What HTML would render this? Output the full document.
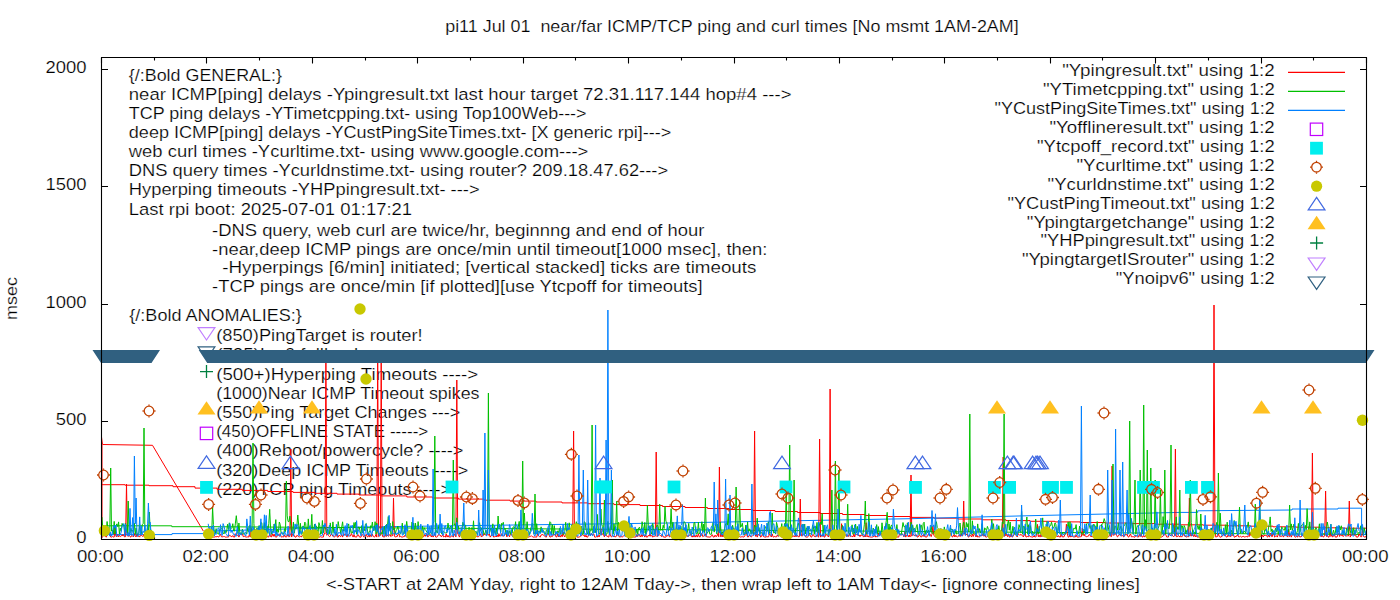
<!DOCTYPE html>
<html><head><meta charset="utf-8"><style>
html,body{margin:0;padding:0;background:#fff;}
svg{display:block;}
text{white-space:pre;font-family:"Liberation Sans",sans-serif;font-size:17px;fill:#000;stroke:#fff;stroke-width:0.22px;}
</style></head><body>
<svg width="1400" height="600" viewBox="0 0 1400 600">
<rect width="1400" height="600" fill="#fff"/>
<path d="M101.5 539.5h6.5M1366.5 539.5h-6.5M101.5 421.5h6.5M1366.5 421.5h-6.5M101.5 304.5h6.5M1366.5 304.5h-6.5M101.5 186.5h6.5M1366.5 186.5h-6.5M101.5 69.5h6.5M1366.5 69.5h-6.5M101.5 57.5v6M101.5 539.5v-6M154.5 57.5v3M154.5 539.5v-3M206.5 57.5v6M206.5 539.5v-6M259.5 57.5v3M259.5 539.5v-3M312.5 57.5v6M312.5 539.5v-6M365.5 57.5v3M365.5 539.5v-3M417.5 57.5v6M417.5 539.5v-6M470.5 57.5v3M470.5 539.5v-3M523.5 57.5v6M523.5 539.5v-6M575.5 57.5v3M575.5 539.5v-3M628.5 57.5v6M628.5 539.5v-6M681.5 57.5v3M681.5 539.5v-3M734.5 57.5v6M734.5 539.5v-6M786.5 57.5v3M786.5 539.5v-3M839.5 57.5v6M839.5 539.5v-6M892.5 57.5v3M892.5 539.5v-3M944.5 57.5v6M944.5 539.5v-6M997.5 57.5v3M997.5 539.5v-3M1050.5 57.5v6M1050.5 539.5v-6M1102.5 57.5v3M1102.5 539.5v-3M1155.5 57.5v6M1155.5 539.5v-6M1208.5 57.5v3M1208.5 539.5v-3M1261.5 57.5v6M1261.5 539.5v-6M1313.5 57.5v3M1313.5 539.5v-3M1366.5 57.5v6M1366.5 539.5v-6" stroke="#000" stroke-width="1.1" fill="none"/><g><text x="445.2" y="32.0" textLength="573.5" lengthAdjust="spacingAndGlyphs">pi11 Jul 01  near/far ICMP/TCP ping and curl times [No msmt 1AM-2AM]</text><text x="45.5" y="72.8" textLength="41.0" lengthAdjust="spacingAndGlyphs">2000</text><text x="45.5" y="189.8" textLength="41.0" lengthAdjust="spacingAndGlyphs">1500</text><text x="45.5" y="307.8" textLength="41.0" lengthAdjust="spacingAndGlyphs">1000</text><text x="55.7" y="424.8" textLength="30.8" lengthAdjust="spacingAndGlyphs">500</text><text x="76.2" y="542.8" textLength="10.3" lengthAdjust="spacingAndGlyphs">0</text><text x="77.0" y="561.5" textLength="46.5" lengthAdjust="spacingAndGlyphs">00:00</text><text x="182.4" y="561.5" textLength="46.5" lengthAdjust="spacingAndGlyphs">02:00</text><text x="287.8" y="561.5" textLength="46.5" lengthAdjust="spacingAndGlyphs">04:00</text><text x="393.2" y="561.5" textLength="46.5" lengthAdjust="spacingAndGlyphs">06:00</text><text x="498.6" y="561.5" textLength="46.5" lengthAdjust="spacingAndGlyphs">08:00</text><text x="604.0" y="561.5" textLength="46.5" lengthAdjust="spacingAndGlyphs">10:00</text><text x="709.5" y="561.5" textLength="46.5" lengthAdjust="spacingAndGlyphs">12:00</text><text x="814.9" y="561.5" textLength="46.5" lengthAdjust="spacingAndGlyphs">14:00</text><text x="920.3" y="561.5" textLength="46.5" lengthAdjust="spacingAndGlyphs">16:00</text><text x="1025.7" y="561.5" textLength="46.5" lengthAdjust="spacingAndGlyphs">18:00</text><text x="1131.1" y="561.5" textLength="46.5" lengthAdjust="spacingAndGlyphs">20:00</text><text x="1236.5" y="561.5" textLength="46.5" lengthAdjust="spacingAndGlyphs">22:00</text><text x="1342.0" y="561.5" textLength="46.5" lengthAdjust="spacingAndGlyphs">00:00</text><text x="326.0" y="589.6" textLength="813.8" lengthAdjust="spacingAndGlyphs">&lt;-START at 2AM Yday, right to 12AM Tday-&gt;, then wrap left to 1AM Tday&lt;- [ignore connecting lines]</text><text x="128.8" y="81.0" textLength="153.1" lengthAdjust="spacingAndGlyphs">{/:Bold GENERAL:}</text><text x="128.8" y="100.1" textLength="662.7" lengthAdjust="spacingAndGlyphs">near ICMP[ping] delays -Ypingresult.txt last hour target 72.31.117.144 hop#4 ---&gt;</text><text x="128.8" y="119.1" textLength="457.8" lengthAdjust="spacingAndGlyphs">TCP ping delays -YTimetcpping.txt- using Top100Web---&gt;</text><text x="128.8" y="138.2" textLength="542.6" lengthAdjust="spacingAndGlyphs">deep ICMP[ping] delays -YCustPingSiteTimes.txt- [X generic rpi]---&gt;</text><text x="128.8" y="157.3" textLength="459.5" lengthAdjust="spacingAndGlyphs">web curl times -Ycurltime.txt- using www.google.com---&gt;</text><text x="128.8" y="176.3" textLength="539.3" lengthAdjust="spacingAndGlyphs">DNS query times -Ycurldnstime.txt- using router? 209.18.47.62---&gt;</text><text x="128.8" y="195.4" textLength="350.8" lengthAdjust="spacingAndGlyphs">Hyperping timeouts -YHPpingresult.txt- ---&gt;</text><text x="128.8" y="214.5" textLength="283.3" lengthAdjust="spacingAndGlyphs">Last rpi boot: 2025-07-01 01:17:21</text><text x="212.1" y="235.6" textLength="492.3" lengthAdjust="spacingAndGlyphs">-DNS query, web curl are twice/hr, beginnng and end of hour</text><text x="212.1" y="254.5" textLength="555.3" lengthAdjust="spacingAndGlyphs">-near,deep ICMP pings are once/min until timeout[1000 msec], then:</text><text x="222.3" y="273.3" textLength="534.1" lengthAdjust="spacingAndGlyphs">-Hyperpings [6/min] initiated; [vertical stacked] ticks are timeouts</text><text x="212.1" y="292.1" textLength="490.6" lengthAdjust="spacingAndGlyphs">-TCP pings are once/min [if plotted][use Ytcpoff for timeouts]</text><text x="129.3" y="321.0" textLength="172.5" lengthAdjust="spacingAndGlyphs">{/:Bold ANOMALIES:}</text><text x="216.2" y="341.0" textLength="206.4" lengthAdjust="spacingAndGlyphs">(850)PingTarget is router!</text><text x="216.2" y="360.2" textLength="188.1" lengthAdjust="spacingAndGlyphs">(725)Ipv6 fallback ----&gt;</text><text x="216.2" y="379.5" textLength="261.9" lengthAdjust="spacingAndGlyphs">(500+)Hyperping Timeouts ----&gt;</text><text x="216.2" y="398.7" textLength="263.3" lengthAdjust="spacingAndGlyphs">(1000)Near ICMP Timeout spikes</text><text x="216.2" y="417.9" textLength="244.1" lengthAdjust="spacingAndGlyphs">(550)Ping Target Changes ---&gt;</text><text x="216.2" y="437.1" textLength="212.1" lengthAdjust="spacingAndGlyphs">(450)OFFLINE STATE -----&gt;</text><text x="216.2" y="456.4" textLength="247.2" lengthAdjust="spacingAndGlyphs">(400)Reboot/powercycle? ----&gt;</text><text x="216.2" y="475.6" textLength="252.0" lengthAdjust="spacingAndGlyphs">(320)Deep ICMP Timeouts ----&gt;</text><text x="216.2" y="494.8" textLength="234.9" lengthAdjust="spacingAndGlyphs">(220)TCP ping Timeouts ----&gt;</text><text x="1062.2" y="75.8" textLength="212.6" lengthAdjust="spacingAndGlyphs">"Ypingresult.txt" using 1:2</text><text x="1042.9" y="94.8" textLength="231.9" lengthAdjust="spacingAndGlyphs">"YTimetcpping.txt" using 1:2</text><text x="994.5" y="113.7" textLength="280.3" lengthAdjust="spacingAndGlyphs">"YCustPingSiteTimes.txt" using 1:2</text><text x="1049.4" y="132.7" textLength="225.4" lengthAdjust="spacingAndGlyphs">"Yofflineresult.txt" using 1:2</text><text x="1037.0" y="151.6" textLength="237.8" lengthAdjust="spacingAndGlyphs">"Ytcpoff_record.txt" using 1:2</text><text x="1076.4" y="170.6" textLength="198.4" lengthAdjust="spacingAndGlyphs">"Ycurltime.txt" using 1:2</text><text x="1047.5" y="189.6" textLength="227.3" lengthAdjust="spacingAndGlyphs">"Ycurldnstime.txt" using 1:2</text><text x="1007.5" y="208.5" textLength="267.3" lengthAdjust="spacingAndGlyphs">"YCustPingTimeout.txt" using 1:2</text><text x="1026.8" y="227.5" textLength="248.0" lengthAdjust="spacingAndGlyphs">"Ypingtargetchange" using 1:2</text><text x="1040.4" y="246.4" textLength="234.4" lengthAdjust="spacingAndGlyphs">"YHPpingresult.txt" using 1:2</text><text x="1021.9" y="265.4" textLength="252.9" lengthAdjust="spacingAndGlyphs">"YpingtargetISrouter" using 1:2</text><text x="1115.7" y="284.4" textLength="159.1" lengthAdjust="spacingAndGlyphs">"Ynoipv6" using 1:2</text></g>
<g transform="translate(17.2 298.5) rotate(-90)"><text x="-21.5" y="0" textLength="42.9" lengthAdjust="spacingAndGlyphs">msec</text></g>
<g><line x1="1288" y1="72.4" x2="1345" y2="72.4" stroke="#ff0000" stroke-width="1.2"/><line x1="1288" y1="91.4" x2="1345" y2="91.4" stroke="#00c000" stroke-width="1.2"/><line x1="1288" y1="110.3" x2="1345" y2="110.3" stroke="#0080ff" stroke-width="1.2"/></g>
<clipPath id="c"><rect x="101" y="57" width="1266" height="483"/></clipPath>
<g clip-path="url(#c)"><polyline points="101.0,484.7 125.0,484.7 125.0,485.2 149.0,485.2 149.0,485.7 173.0,485.7 173.0,486.7 195.0,486.7 195.0,488.1 217.0,488.1 217.0,489.3 242.3,489.3 242.3,490.4 267.7,490.4 267.7,491.5 293.0,491.5 293.0,492.4 315.0,492.4 315.0,493.3 337.0,493.3 337.0,494.1 359.0,494.1 359.0,495.0 381.0,495.0 381.0,495.9 406.8,495.9 406.8,497.0 432.6,497.0 432.6,498.0 458.4,498.0 458.4,499.1 484.2,499.1 484.2,500.2 510.0,500.2 510.0,501.1 536.0,501.1 536.0,502.0 562.0,502.0 562.0,502.9 588.0,502.9 588.0,503.7 614.0,503.7 614.0,504.6 640.0,504.6 640.0,505.5 662.5,505.5 662.5,506.5 685.0,506.5 685.0,507.5 707.5,507.5 707.5,508.5 730.0,508.5 730.0,509.5 752.5,509.5 752.5,510.5 775.0,510.5 775.0,511.5 797.5,511.5 797.5,512.5 820.0,512.5 820.0,513.5 842.5,513.5 842.5,514.5 865.0,514.5 865.0,515.5 887.5,515.5 887.5,516.5 910.0,516.5 910.0,517.4 934.0,517.4 934.0,518.2 958.0,518.2 958.0,519.0 982.0,519.0 982.0,519.8 1006.0,519.8 1006.0,520.6 1030.0,520.6 1030.0,521.3 1055.0,521.3 1055.0,521.9 1080.0,521.9 1080.0,522.5 1105.0,522.5 1105.0,523.0 1130.0,523.0 1130.0,523.6 1155.0,523.6 1155.0,524.2 1180.0,524.2 1180.0,524.8 1203.2,524.8 1203.2,525.2 1226.5,525.2 1226.5,525.8 1249.8,525.8 1249.8,526.2 1273.0,526.2 1273.0,526.8 1296.2,526.8 1296.2,527.2 1319.5,527.2 1319.5,527.8 1342.8,527.8 1342.8,528.2 1366.0,528.2" fill="none" stroke="#ff0000" stroke-width="1.0" stroke-linejoin="round"/><polyline points="101.5,437.0 102.5,444.5 152.5,445.3 203.3,531.0" fill="none" stroke="#ff0000" stroke-width="1.0" stroke-linejoin="round"/><polyline points="102.0,445.0 102.0,538.0" fill="none" stroke="#ff0000" stroke-width="1.0" stroke-linejoin="round"/><polyline points="101.0,525.8 171.8,525.8 171.8,526.7 212.0,526.7" fill="none" stroke="#00c000" stroke-width="1.0" stroke-linejoin="round"/><polyline points="101.0,534.6 172.0,534.6 172.0,533.6 212.0,533.6" fill="none" stroke="#0080ff" stroke-width="1.0" stroke-linejoin="round"/><polyline points="212.0,531.0 360.0,527.0 670.0,523.0 910.0,518.7 1030.0,515.7 1180.0,512.4 1197.7,512.4 1197.7,510.8 1292.0,510.0 1292.0,509.0 1338.0,509.0 1338.0,508.2 1361.6,508.2 1361.6,530.0" fill="none" stroke="#0080ff" stroke-width="1.0" stroke-linejoin="round"/><polyline points="212.0,526.7 670.0,529.7 1030.0,532.3 1366.0,534.5" fill="none" stroke="#00c000" stroke-width="1.0" stroke-linejoin="round"/><polyline points="101.0,537.1 101.9,535.0 102.8,536.3 103.6,535.7 104.5,526.5 105.4,536.5 106.3,537.1 107.1,535.3 108.0,533.8 108.9,532.5 109.8,533.8 110.7,537.0 111.5,537.1 112.4,536.5 113.3,537.0 114.2,537.0 115.1,526.2 115.9,536.1 116.8,537.0 117.7,534.4 118.6,536.8 119.4,535.3 120.3,536.6 121.2,535.6 122.1,536.0 123.0,534.5 123.8,535.9 124.7,537.0 125.6,536.6 126.5,484.0 127.4,535.5 128.2,536.5 129.1,535.0 130.0,536.6 130.9,537.1 131.7,535.4 132.6,535.9 133.5,537.0 134.4,533.5 135.3,536.2 136.1,537.0 137.0,533.7 137.9,536.4 138.8,536.1 139.7,537.1 140.5,534.7 141.4,535.2 142.3,536.2 143.2,536.5 144.0,534.4 144.9,537.0 145.8,536.4 146.7,536.8 147.6,535.8 148.4,534.9 149.3,537.0 150.2,534.4 151.1,534.8 152.0,536.9" fill="none" stroke="#ff0000" stroke-width="1.0" stroke-linejoin="round"/><polyline points="208.2,536.0 209.1,533.6 209.9,536.4 210.8,537.0 211.7,536.9 212.6,537.0 213.4,537.1 214.3,537.1 215.2,536.7 216.1,536.8 217.0,536.6 217.8,536.5 218.7,537.1 219.6,535.5 220.5,534.3 221.4,536.7 222.2,536.6 223.1,537.1 224.0,536.2 224.9,537.1 225.7,537.1 226.6,537.1 227.5,537.0 228.4,537.1 229.3,535.2 230.1,535.6 231.0,536.3 231.9,536.8 232.8,535.5 233.6,537.1 234.5,537.1 235.4,533.8 236.3,534.6 237.2,535.4 238.0,534.8 238.9,537.1 239.8,534.9 240.7,534.2 241.6,534.2 242.4,533.7 243.3,536.8 244.2,536.1 245.1,536.7 245.9,536.9 246.8,537.1 247.7,536.9 248.6,537.1 249.5,534.1 250.3,537.1 251.2,528.3 252.1,534.4 253.0,536.0 253.9,537.0 254.7,535.6 255.6,536.2 256.5,533.9 257.4,535.5 258.2,536.6 259.1,537.0 260.0,537.1 260.9,536.8 261.8,536.5 262.6,535.5 263.5,536.7 264.4,536.1 265.3,536.1 266.2,535.5 267.0,537.0 267.9,536.5 268.8,537.1 269.7,533.4 270.5,536.5 271.4,536.9 272.3,533.8 273.2,536.4 274.1,534.0 274.9,536.6 275.8,536.9 276.7,537.1 277.6,534.4 278.5,535.4 279.3,535.7 280.2,533.5 281.1,536.8 282.0,537.1 282.8,536.6 283.7,537.0 284.6,534.8 285.5,537.0 286.4,537.1 287.2,536.0 288.1,534.1 289.0,537.1 289.9,536.2 290.8,449.0 291.6,537.0 292.5,533.9 293.4,533.9 294.3,536.0 295.1,537.1 296.0,537.1 296.9,535.3 297.8,535.9 298.7,536.6 299.5,537.1 300.4,536.2 301.3,536.9 302.2,535.3 303.0,536.1 303.9,534.5 304.8,535.1 305.7,536.8 306.6,536.8 307.4,536.4 308.3,537.1 309.2,536.5 310.1,534.3 311.0,535.1 311.8,535.0 312.7,536.2 313.6,534.2 314.5,535.9 315.3,535.7 316.2,536.7 317.1,533.8 318.0,533.5 318.9,537.1 319.7,537.1 320.6,536.7 321.5,537.1 322.4,537.1 323.3,537.1 324.1,533.5 325.0,534.0 325.9,352.0 326.8,535.3 327.6,533.6 328.5,535.5 329.4,536.6 330.3,536.2 331.2,534.0 332.0,534.4 332.9,536.2 333.8,537.1 334.7,536.9 335.6,535.8 336.4,533.8 337.3,537.1 338.2,537.1 339.1,535.1 339.9,536.1 340.8,536.5 341.7,534.6 342.6,537.1 343.5,534.4 344.3,535.3 345.2,533.7 346.1,535.0 347.0,537.1 347.9,534.2 348.7,535.3 349.6,536.1 350.5,536.0 351.4,533.5 352.2,535.2 353.1,537.1 354.0,534.6 354.9,537.1 355.8,536.8 356.6,537.1 357.5,534.9 358.4,534.8 359.3,536.9 360.1,537.1 361.0,537.1 361.9,534.2 362.8,535.3 363.7,536.9 364.5,536.8 365.4,536.0 366.3,534.2 367.2,536.8 368.1,536.9 368.9,533.8 369.8,537.1 370.7,534.7 371.6,536.5 372.4,534.3 373.3,536.5 374.2,537.0 375.1,536.6 376.0,534.3 376.8,537.1 377.7,352.0 378.6,536.6 379.5,535.8 380.4,535.5 381.2,352.0 382.1,534.7 383.0,537.0 383.9,536.7 384.7,537.0 385.6,534.4 386.5,536.4 387.4,534.8 388.3,536.3 389.1,535.7 390.0,534.3 390.9,536.6 391.8,535.4 392.7,535.7 393.5,498.0 394.4,536.0 395.3,537.1 396.2,536.4 397.0,536.9 397.9,534.5 398.8,533.7 399.7,536.9 400.6,536.0 401.4,537.1 402.3,537.1 403.2,536.6 404.1,536.9 405.0,535.1 405.8,536.3 406.7,537.0 407.6,537.1 408.5,534.7 409.3,536.8 410.2,533.6 411.1,537.1 412.0,535.6 412.9,535.4 413.7,536.9 414.6,537.1 415.5,537.1 416.4,536.7 417.2,536.8 418.1,536.0 419.0,536.1 419.9,537.1 420.8,537.1 421.6,537.1 422.5,537.1 423.4,536.9 424.3,534.7 425.2,536.4 426.0,534.4 426.9,533.5 427.8,537.1 428.7,535.5 429.5,535.3 430.4,534.6 431.3,537.0 432.2,535.2 433.1,537.1 433.9,535.6 434.8,533.9 435.7,537.0 436.6,537.1 437.5,536.6 438.3,534.7 439.2,534.8 440.1,535.0 441.0,536.6 441.8,536.4 442.7,534.5 443.6,536.9 444.5,536.5 445.4,537.1 446.2,533.8 447.1,537.1 448.0,535.3 448.9,537.1 449.8,536.8 450.6,537.1 451.5,535.8 452.4,536.3 453.3,537.1 454.1,534.4 455.0,535.0 455.9,536.9 456.8,380.0 457.7,533.9 458.5,534.8 459.4,537.1 460.3,534.3 461.2,535.3 462.1,536.6 462.9,536.9 463.8,534.8 464.7,535.3 465.6,537.1 466.4,536.9 467.3,535.0 468.2,537.1 469.1,536.5 470.0,533.8 470.8,537.1 471.7,536.5 472.6,535.6 473.5,534.7 474.4,534.9 475.2,536.4 476.1,536.1 477.0,536.4 477.9,536.9 478.7,536.6 479.6,535.5 480.5,533.8 481.4,537.0 482.3,535.9 483.1,535.9 484.0,533.4 484.9,534.8 485.8,535.0 486.6,533.8 487.5,533.9 488.4,535.3 489.3,533.9 490.2,537.1 491.0,535.6 491.9,534.8 492.8,534.9 493.7,537.1 494.6,536.9 495.4,536.1 496.3,537.0 497.2,535.1 498.1,536.9 498.9,533.6 499.8,536.3 500.7,535.8 501.6,533.7 502.5,536.0 503.3,536.1 504.2,535.8 505.1,533.7 506.0,533.7 506.9,536.9 507.7,534.4 508.6,534.8 509.5,536.9 510.4,533.8 511.2,533.4 512.1,535.3 513.0,537.1 513.9,535.9 514.8,537.1 515.6,536.1 516.5,534.4 517.4,536.6 518.3,533.5 519.2,536.2 520.0,537.1 520.9,536.7 521.8,534.4 522.7,533.7 523.5,534.5 524.4,536.7 525.3,533.4 526.2,537.1 527.1,536.0 527.9,537.1 528.8,537.0 529.7,536.6 530.6,536.3 531.5,535.8 532.3,536.6 533.2,537.1 534.1,537.1 535.0,536.8 535.8,537.1 536.7,537.1 537.6,533.6 538.5,535.9 539.4,536.5 540.2,537.1 541.1,535.0 542.0,534.6 542.9,534.6 543.8,535.4 544.6,535.8 545.5,537.0 546.4,537.1 547.3,533.6 548.1,533.4 549.0,534.9 549.9,537.0 550.8,537.0 551.7,535.9 552.5,536.4 553.4,534.3 554.3,534.6 555.2,533.9 556.0,536.9 556.9,536.9 557.8,533.7 558.7,537.0 559.6,535.8 560.4,537.1 561.3,534.8 562.2,536.8 563.1,532.0 564.0,535.9 564.8,537.0 565.7,534.1 566.6,533.6 567.5,535.8 568.3,534.8 569.2,536.3 570.1,534.9 571.0,535.6 571.9,537.1 572.7,537.1 573.6,431.0 574.5,537.1 575.4,534.2 576.3,535.3 577.1,537.1 578.0,537.1 578.9,537.1 579.8,536.7 580.6,536.2 581.5,535.8 582.4,534.6 583.3,535.4 584.2,535.1 585.0,537.0 585.9,535.2 586.8,537.1 587.7,537.1 588.6,534.8 589.4,534.7 590.3,535.2 591.2,533.5 592.1,535.0 592.9,534.7 593.8,533.9 594.7,537.1 595.6,537.1 596.5,536.6 597.3,537.1 598.2,535.3 599.1,537.0 600.0,534.5 600.9,528.8 601.7,535.1 602.6,533.6 603.5,534.7 604.4,536.9 605.2,533.4 606.1,535.8 607.0,535.9 607.9,536.7 608.8,537.1 609.6,532.3 610.5,536.1 611.4,536.9 612.3,535.6 613.1,536.4 614.0,536.5 614.9,536.6 615.8,536.9 616.7,535.1 617.5,535.0 618.4,534.9 619.3,537.0 620.2,536.9 621.1,536.7 621.9,536.7 622.8,536.8 623.7,536.0 624.6,534.9 625.4,536.1 626.3,537.0 627.2,534.3 628.1,536.4 629.0,533.8 629.8,537.1 630.7,536.6 631.6,536.9 632.5,534.2 633.4,537.1 634.2,537.1 635.1,536.9 636.0,537.0 636.9,534.4 637.7,536.6 638.6,533.8 639.5,535.5 640.4,537.0 641.3,534.6 642.1,536.8 643.0,534.7 643.9,535.3 644.8,537.1 645.7,534.8 646.5,537.1 647.4,537.1 648.3,535.4 649.2,536.1 650.0,533.7 650.9,536.3 651.8,535.4 652.7,537.1 653.6,536.5 654.4,536.3 655.3,536.2 656.2,452.0 657.1,536.7 658.0,534.8 658.8,534.9 659.7,534.9 660.6,535.6 661.5,536.6 662.3,534.4 663.2,536.8 664.1,537.1 665.0,537.1 665.9,537.1 666.7,535.4 667.6,536.0 668.5,534.1 669.4,536.9 670.2,536.4 671.1,535.7 672.0,535.3 672.9,537.1 673.8,536.5 674.6,535.3 675.5,533.9 676.4,536.3 677.3,534.1 678.2,534.2 679.0,531.7 679.9,535.3 680.8,535.9 681.7,535.9 682.5,534.3 683.4,537.1 684.3,536.2 685.2,536.5 686.1,534.0 686.9,536.6 687.8,536.1 688.7,536.2 689.6,534.8 690.5,534.0 691.3,536.4 692.2,537.1 693.1,535.4 694.0,537.1 694.8,535.0 695.7,537.1 696.6,535.2 697.5,537.1 698.4,533.6 699.2,536.7 700.1,537.0 701.0,533.7 701.9,533.9 702.8,536.7 703.6,536.1 704.5,536.0 705.4,533.8 706.3,536.6 707.1,536.9 708.0,536.9 708.9,537.0 709.8,537.1 710.7,536.9 711.5,535.3 712.4,534.8 713.3,537.1 714.2,537.0 715.1,535.1 715.9,536.7 716.8,536.3 717.7,533.6 718.6,536.7 719.4,467.0 720.3,536.7 721.2,533.5 722.1,537.0 723.0,533.8 723.8,536.8 724.7,534.5 725.6,534.5 726.5,535.1 727.4,536.4 728.2,534.3 729.1,536.6 730.0,533.4 730.9,534.2 731.7,536.8 732.6,536.9 733.5,534.8 734.4,537.1 735.3,536.6 736.1,535.5 737.0,535.5 737.9,533.6 738.8,536.9 739.6,536.6 740.5,537.0 741.4,536.8 742.3,536.7 743.2,537.0 744.0,536.9 744.9,536.0 745.8,527.4 746.7,534.5 747.6,537.0 748.4,537.0 749.3,535.2 750.2,536.2 751.1,536.9 751.9,536.5 752.8,535.5 753.7,534.5 754.6,431.0 755.5,536.3 756.3,533.8 757.2,537.1 758.1,534.5 759.0,534.9 759.9,535.1 760.7,537.1 761.6,536.4 762.5,533.4 763.4,536.5 764.2,536.9 765.1,537.0 766.0,537.1 766.9,536.5 767.8,536.9 768.6,536.8 769.5,533.6 770.4,535.4 771.3,537.0 772.2,533.9 773.0,536.8 773.9,537.1 774.8,536.3 775.7,536.9 776.5,536.9 777.4,534.9 778.3,536.5 779.2,533.6 780.1,534.3 780.9,536.5 781.8,537.1 782.7,537.0 783.6,535.8 784.5,535.2 785.3,535.2 786.2,537.1 787.1,534.7 788.0,536.7 788.8,536.6 789.7,535.6 790.6,536.9 791.5,533.9 792.4,537.1 793.2,536.2 794.1,535.7 795.0,537.0 795.9,534.3 796.8,536.7 797.6,535.4 798.5,536.9 799.4,536.7 800.3,499.0 801.1,534.0 802.0,536.3 802.9,533.8 803.8,534.4 804.7,535.0 805.5,536.9 806.4,537.1 807.3,537.1 808.2,536.5 809.0,535.0 809.9,534.7 810.8,536.9 811.7,537.1 812.6,534.8 813.4,534.6 814.3,536.5 815.2,536.7 816.1,536.4 817.0,535.0 817.8,536.5 818.7,537.1 819.6,439.0 820.5,537.1 821.3,535.1 822.2,536.5 823.1,534.1 824.0,537.1 824.9,537.0 825.7,534.2 826.6,535.0 827.5,535.5 828.4,537.0 829.3,533.9 830.1,389.0 831.0,536.7 831.9,534.2 832.8,535.5 833.6,537.1 834.5,533.9 835.4,537.1 836.3,536.1 837.2,533.7 838.0,537.1 838.9,534.3 839.8,535.8 840.7,536.1 841.6,523.7 842.4,536.4 843.3,534.8 844.2,536.9 845.1,535.5 845.9,534.4 846.8,536.7 847.7,534.8 848.6,536.5 849.5,533.4 850.3,536.3 851.2,536.1 852.1,536.3 853.0,536.9 853.9,533.7 854.7,537.0 855.6,533.6 856.5,534.6 857.4,534.1 858.2,535.7 859.1,534.9 860.0,536.7 860.9,534.9 861.8,535.3 862.6,535.0 863.5,537.1 864.4,536.1 865.3,537.0 866.1,522.7 867.0,536.9 867.9,535.6 868.8,537.1 869.7,536.7 870.5,537.0 871.4,537.1 872.3,537.1 873.2,536.5 874.1,536.7 874.9,535.4 875.8,537.1 876.7,536.5 877.6,536.8 878.4,533.0 879.3,536.1 880.2,534.4 881.1,534.0 882.0,534.4 882.8,537.1 883.7,536.7 884.6,535.1 885.5,537.0 886.4,537.0 887.2,535.7 888.1,535.2 889.0,536.8 889.9,535.2 890.7,531.7 891.6,536.5 892.5,533.5 893.4,534.2 894.3,536.6 895.1,535.7 896.0,532.9 896.9,537.1 897.8,537.0 898.7,537.1 899.5,533.8 900.4,534.9 901.3,534.8 902.2,534.2 903.0,534.8 903.9,536.8 904.8,531.7 905.7,537.1 906.6,535.3 907.4,534.4 908.3,536.9 909.2,535.0 910.1,537.0 911.0,475.0 911.8,536.2 912.7,534.0 913.6,534.6 914.5,536.1 915.3,535.0 916.2,534.6 917.1,536.8 918.0,537.1 918.9,535.3 919.7,535.0 920.6,536.8 921.5,537.0 922.4,535.4 923.2,536.4 924.1,534.1 925.0,537.0 925.9,536.8 926.8,537.1 927.6,535.4 928.5,534.0 929.4,535.5 930.3,534.4 931.2,536.6 932.0,534.2 932.9,525.9 933.8,535.4 934.7,536.0 935.5,537.1 936.4,537.1 937.3,536.4 938.2,535.7 939.1,536.5 939.9,536.0 940.8,537.0 941.7,534.5 942.6,536.2 943.5,536.0 944.3,536.4 945.2,536.3 946.1,535.9 947.0,534.5 947.8,536.8 948.7,537.1 949.6,536.4 950.5,533.5 951.4,534.4 952.2,537.0 953.1,536.6 954.0,534.6 954.9,537.0 955.8,535.3 956.6,536.6 957.5,537.1 958.4,536.2 959.3,534.7 960.1,536.6 961.0,533.6 961.9,535.7 962.8,535.7 963.7,501.0 964.5,534.1 965.4,533.8 966.3,535.0 967.2,533.6 968.1,536.9 968.9,537.1 969.8,534.8 970.7,535.4 971.6,537.0 972.4,534.1 973.3,536.5 974.2,533.6 975.1,534.6 976.0,537.0 976.8,534.9 977.7,537.1 978.6,536.7 979.5,537.1 980.4,535.9 981.2,534.8 982.1,535.8 983.0,533.8 983.9,536.3 984.7,535.0 985.6,537.0 986.5,537.1 987.4,536.6 988.3,535.5 989.1,534.9 990.0,536.0 990.9,536.2 991.8,535.3 992.6,537.1 993.5,536.9 994.4,537.1 995.3,533.9 996.2,535.4 997.0,537.1 997.9,534.2 998.8,537.0 999.7,536.9 1000.6,536.8 1001.4,530.0 1002.3,535.8 1003.2,457.0 1004.1,536.6 1004.9,533.0 1005.8,535.9 1006.7,534.2 1007.6,536.7 1008.5,534.2 1009.3,537.1 1010.2,537.0 1011.1,533.5 1012.0,537.1 1012.9,536.7 1013.7,534.9 1014.6,533.9 1015.5,534.3 1016.4,535.4 1017.2,537.0 1018.1,533.8 1019.0,534.4 1019.9,535.4 1020.8,534.2 1021.6,534.8 1022.5,536.0 1023.4,536.9 1024.3,534.2 1025.2,533.6 1026.0,537.0 1026.9,536.8 1027.8,536.3 1028.7,536.8 1029.5,535.5 1030.4,536.7 1031.3,536.8 1032.2,537.0 1033.1,537.1 1033.9,535.6 1034.8,537.0 1035.7,537.0 1036.6,535.6 1037.5,524.4 1038.3,536.8 1039.2,535.2 1040.1,537.1 1041.0,534.2 1041.8,536.8 1042.7,535.8 1043.6,529.3 1044.5,536.9 1045.4,534.9 1046.2,537.1 1047.1,536.7 1048.0,535.6 1048.9,537.1 1049.8,534.9 1050.6,536.2 1051.5,537.1 1052.4,535.4 1053.3,536.9 1054.1,535.0 1055.0,536.2 1055.9,536.6 1056.8,535.9 1057.7,537.0 1058.5,535.6 1059.4,537.0 1060.3,537.1 1061.2,533.6 1062.0,536.9 1062.9,536.7 1063.8,537.0 1064.7,535.0 1065.6,533.9 1066.4,524.2 1067.3,534.0 1068.2,537.1 1069.1,537.0 1070.0,533.9 1070.8,537.1 1071.7,536.0 1072.6,536.2 1073.5,537.1 1074.3,536.8 1075.2,537.1 1076.1,534.8 1077.0,537.1 1077.9,536.9 1078.7,537.1 1079.6,536.8 1080.5,536.7 1081.4,536.5 1082.3,528.2 1083.1,535.6 1084.0,533.9 1084.9,536.1 1085.8,536.0 1086.6,536.8 1087.5,536.4 1088.4,536.2 1089.3,534.4 1090.2,535.4 1091.0,536.9 1091.9,536.1 1092.8,537.1 1093.7,536.8 1094.6,535.8 1095.4,536.1 1096.3,534.2 1097.2,536.5 1098.1,537.1 1098.9,535.8 1099.8,533.9 1100.7,535.4 1101.6,536.0 1102.5,535.6 1103.3,536.9 1104.2,536.9 1105.1,537.1 1106.0,536.9 1106.9,535.7 1107.7,536.3 1108.6,536.8 1109.5,535.3 1110.4,533.1 1111.2,536.8 1112.1,466.0 1113.0,535.5 1113.9,534.7 1114.8,534.9 1115.6,533.5 1116.5,534.8 1117.4,536.9 1118.3,536.2 1119.1,535.0 1120.0,533.9 1120.9,535.9 1121.8,535.8 1122.7,535.2 1123.5,536.9 1124.4,536.3 1125.3,533.9 1126.2,535.2 1127.1,534.1 1127.9,536.6 1128.8,537.1 1129.7,535.1 1130.6,534.0 1131.4,536.8 1132.3,536.7 1133.2,536.6 1134.1,537.1 1135.0,537.1 1135.8,535.2 1136.7,536.3 1137.6,536.9 1138.5,537.0 1139.4,534.1 1140.2,536.5 1141.1,533.5 1142.0,537.0 1142.9,537.0 1143.7,535.5 1144.6,537.1 1145.5,535.3 1146.4,537.1 1147.3,537.1 1148.1,536.8 1149.0,534.4 1149.9,537.1 1150.8,537.0 1151.7,535.3 1152.5,537.1 1153.4,537.0 1154.3,535.1 1155.2,536.3 1156.0,536.8 1156.9,534.3 1157.8,530.4 1158.7,533.5 1159.6,537.0 1160.4,537.0 1161.3,537.1 1162.2,536.7 1163.1,536.2 1164.0,533.5 1164.8,534.2 1165.7,534.3 1166.6,536.9 1167.5,537.0 1168.3,537.1 1169.2,533.5 1170.1,535.5 1171.0,535.3 1171.9,534.3 1172.7,535.9 1173.6,536.8 1174.5,535.8 1175.4,449.0 1176.2,536.5 1177.1,536.9 1178.0,535.7 1178.9,535.9 1179.8,537.1 1180.6,535.6 1181.5,537.1 1182.4,536.2 1183.3,534.7 1184.2,534.5 1185.0,536.7 1185.9,536.4 1186.8,537.1 1187.7,536.6 1188.5,536.8 1189.4,498.0 1190.3,535.4 1191.2,536.2 1192.1,534.0 1192.9,534.8 1193.8,536.7 1194.7,534.4 1195.6,536.9 1196.5,535.6 1197.3,537.1 1198.2,537.1 1199.1,536.8 1200.0,537.1 1200.8,537.1 1201.7,535.9 1202.6,537.1 1203.5,534.3 1204.4,536.0 1205.2,537.1 1206.1,533.9 1207.0,535.2 1207.9,537.0 1208.8,537.1 1209.6,535.4 1210.5,536.8 1211.4,536.1 1212.3,536.5 1213.1,537.1 1214.0,305.0 1214.9,527.7 1215.8,537.1 1216.7,536.7 1217.5,536.5 1218.4,533.6 1219.3,536.6 1220.2,537.1 1221.1,537.1 1221.9,535.7 1222.8,535.8 1223.7,534.0 1224.6,533.4 1225.4,535.2 1226.3,537.1 1227.2,537.0 1228.1,534.6 1229.0,536.6 1229.8,535.6 1230.7,536.8 1231.6,534.6 1232.5,535.5 1233.4,533.9 1234.2,537.1 1235.1,537.1 1236.0,535.9 1236.9,536.2 1237.7,534.4 1238.6,536.8 1239.5,536.8 1240.4,536.2 1241.3,537.0 1242.1,537.1 1243.0,536.1 1243.9,536.6 1244.8,537.1 1245.6,536.7 1246.5,536.5 1247.4,537.1 1248.3,535.6 1249.2,536.6 1250.0,532.3 1250.9,535.5 1251.8,531.8 1252.7,535.1 1253.6,537.1 1254.4,536.2 1255.3,536.6 1256.2,537.0 1257.1,537.1 1257.9,537.1 1258.8,534.5 1259.7,537.1 1260.6,536.3 1261.5,536.5 1262.3,535.1 1263.2,537.1 1264.1,535.1 1265.0,535.8 1265.9,534.9 1266.7,536.3 1267.6,537.1 1268.5,535.0 1269.4,537.1 1270.2,533.7 1271.1,533.5 1272.0,536.9 1272.9,534.0 1273.8,533.7 1274.6,537.1 1275.5,536.3 1276.4,535.7 1277.3,537.1 1278.2,534.6 1279.0,533.5 1279.9,536.7 1280.8,536.0 1281.7,536.3 1282.5,535.1 1283.4,537.1 1284.3,535.5 1285.2,534.9 1286.1,535.2 1286.9,536.1 1287.8,537.1 1288.7,529.1 1289.6,536.6 1290.5,534.2 1291.3,537.1 1292.2,534.9 1293.1,534.1 1294.0,534.3 1294.8,536.9 1295.7,537.1 1296.6,536.5 1297.5,537.1 1298.4,534.4 1299.2,536.7 1300.1,536.6 1301.0,537.1 1301.9,535.5 1302.8,534.9 1303.6,536.4 1304.5,537.1 1305.4,537.0 1306.3,536.7 1307.1,536.4 1308.0,537.1 1308.9,535.4 1309.8,536.4 1310.7,535.6 1311.5,537.1 1312.4,453.0 1313.3,536.9 1314.2,537.1 1315.0,537.1 1315.9,536.8 1316.8,536.4 1317.7,537.1 1318.6,533.9 1319.4,534.9 1320.3,534.6 1321.2,536.8 1322.1,533.4 1323.0,537.1 1323.8,536.6 1324.7,536.0 1325.6,491.0 1326.5,536.5 1327.3,535.3 1328.2,537.1 1329.1,537.1 1330.0,530.5 1330.9,536.5 1331.7,534.9 1332.6,536.9 1333.5,536.3 1334.4,533.9 1335.3,537.1 1336.1,536.9 1337.0,537.1 1337.9,534.6 1338.8,533.4 1339.6,536.5 1340.5,534.3 1341.4,535.7 1342.3,534.9 1343.2,536.6 1344.0,535.4 1344.9,534.1 1345.8,536.3 1346.7,535.8 1347.6,535.8 1348.4,536.0 1349.3,501.0 1350.2,537.1 1351.1,535.1 1351.9,535.3 1352.8,534.0 1353.7,533.8 1354.6,535.4 1355.5,534.5 1356.3,537.0 1357.2,537.1 1358.1,536.9 1359.0,534.0 1359.9,535.4 1360.7,536.7 1361.6,536.7 1362.5,529.4 1363.4,536.4 1364.2,536.9 1365.1,537.0 1366.0,536.4" fill="none" stroke="#ff0000" stroke-width="1.0" stroke-linejoin="round"/><polyline points="101.0,522.6 101.9,517.3 102.8,527.7 103.6,533.3 104.5,530.0 105.4,534.1 106.3,532.6 107.1,521.5 108.0,530.9 108.9,533.3 109.8,531.9 110.7,468.0 111.5,531.2 112.4,530.1 113.3,534.1 114.2,521.4 115.1,534.0 115.9,526.5 116.8,523.9 117.7,526.6 118.6,521.9 119.4,534.1 120.3,528.1 121.2,531.1 122.1,523.4 123.0,525.7 123.8,524.5 124.7,531.9 125.6,523.5 126.5,531.6 127.4,533.2 128.2,501.0 129.1,533.6 130.0,533.3 130.9,528.3 131.7,531.3 132.6,530.3 133.5,533.9 134.4,523.2 135.3,534.3 136.1,527.9 137.0,534.0 137.9,534.3 138.8,533.6 139.7,524.6 140.5,531.2 141.4,533.7 142.3,524.5 143.2,523.8 144.0,428.0 144.9,534.2 145.8,534.3 146.7,534.3 147.6,526.1 148.4,534.0 149.3,512.0 150.2,530.1 151.1,529.9 152.0,534.2" fill="none" stroke="#00c000" stroke-width="1.0" stroke-linejoin="round"/><polyline points="208.2,534.1 209.1,534.0 209.9,530.0 210.8,529.8 211.7,534.3 212.6,507.0 213.4,524.6 214.3,532.8 215.2,534.2 216.1,528.6 217.0,532.2 217.8,533.8 218.7,534.1 219.6,529.6 220.5,529.9 221.4,528.6 222.2,527.5 223.1,532.6 224.0,534.0 224.9,530.3 225.7,532.2 226.6,532.2 227.5,524.3 228.4,529.5 229.3,522.8 230.1,529.7 231.0,528.7 231.9,527.6 232.8,523.7 233.6,531.0 234.5,531.1 235.4,523.1 236.3,515.7 237.2,524.5 238.0,533.7 238.9,523.0 239.8,532.1 240.7,533.8 241.6,534.1 242.4,529.2 243.3,534.1 244.2,534.1 245.1,533.3 245.9,532.4 246.8,534.0 247.7,527.6 248.6,531.9 249.5,525.7 250.3,525.4 251.2,532.1 252.1,526.6 253.0,443.0 253.9,523.6 254.7,534.3 255.6,533.8 256.5,528.4 257.4,528.3 258.2,529.5 259.1,525.6 260.0,526.8 260.9,522.9 261.8,522.8 262.6,532.1 263.5,531.7 264.4,522.6 265.3,534.1 266.2,532.0 267.0,525.9 267.9,533.5 268.8,523.4 269.7,509.3 270.5,527.3 271.4,534.3 272.3,530.7 273.2,531.8 274.1,524.0 274.9,528.4 275.8,519.6 276.7,534.2 277.6,529.3 278.5,532.3 279.3,522.0 280.2,524.4 281.1,533.1 282.0,532.9 282.8,533.7 283.7,533.9 284.6,528.6 285.5,531.6 286.4,481.0 287.2,515.9 288.1,521.5 289.0,521.7 289.9,516.2 290.8,525.3 291.6,532.2 292.5,532.8 293.4,522.1 294.3,533.2 295.1,527.6 296.0,528.7 296.9,525.4 297.8,515.0 298.7,525.1 299.5,533.6 300.4,523.3 301.3,534.3 302.2,533.8 303.0,525.9 303.9,528.6 304.8,522.1 305.7,523.5 306.6,533.7 307.4,534.0 308.3,518.9 309.2,532.2 310.1,534.3 311.0,528.3 311.8,514.3 312.7,534.2 313.6,532.9 314.5,524.2 315.3,533.4 316.2,525.8 317.1,529.5 318.0,534.0 318.9,522.6 319.7,525.3 320.6,534.3 321.5,533.5 322.4,520.5 323.3,532.8 324.1,525.4 325.0,527.6 325.9,529.8 326.8,532.9 327.6,529.3 328.5,533.7 329.4,534.1 330.3,522.9 331.2,533.1 332.0,533.7 332.9,521.9 333.8,532.8 334.7,532.5 335.6,534.1 336.4,533.2 337.3,530.7 338.2,521.6 339.1,527.5 339.9,527.4 340.8,533.9 341.7,527.2 342.6,521.8 343.5,531.2 344.3,529.9 345.2,530.4 346.1,531.8 347.0,530.2 347.9,525.9 348.7,523.9 349.6,533.9 350.5,528.4 351.4,532.8 352.2,533.1 353.1,530.8 354.0,522.5 354.9,527.5 355.8,522.2 356.6,534.2 357.5,531.3 358.4,527.0 359.3,527.6 360.1,531.6 361.0,533.9 361.9,525.5 362.8,533.0 363.7,528.6 364.5,530.6 365.4,524.2 366.3,523.5 367.2,528.5 368.1,534.2 368.9,532.4 369.8,530.8 370.7,525.7 371.6,526.7 372.4,522.0 373.3,530.5 374.2,530.2 375.1,521.7 376.0,534.2 376.8,523.1 377.7,531.9 378.6,534.2 379.5,533.6 380.4,534.2 381.2,532.4 382.1,534.3 383.0,527.5 383.9,534.0 384.7,526.1 385.6,534.2 386.5,524.3 387.4,526.7 388.3,516.5 389.1,530.6 390.0,523.0 390.9,534.3 391.8,534.2 392.7,521.6 393.5,529.9 394.4,528.2 395.3,534.0 396.2,530.2 397.0,529.4 397.9,526.0 398.8,533.7 399.7,534.3 400.6,533.9 401.4,531.2 402.3,523.1 403.2,534.0 404.1,534.0 405.0,527.6 405.8,529.6 406.7,521.4 407.6,528.4 408.5,534.3 409.3,532.6 410.2,533.8 411.1,534.2 412.0,522.1 412.9,530.5 413.7,523.0 414.6,532.1 415.5,523.1 416.4,532.9 417.2,533.8 418.1,521.6 419.0,532.6 419.9,532.2 420.8,531.2 421.6,532.4 422.5,526.2 423.4,532.6 424.3,527.8 425.2,529.6 426.0,530.6 426.9,532.2 427.8,532.3 428.7,533.8 429.5,534.3 430.4,531.2 431.3,533.7 432.2,534.1 433.1,523.4 433.9,522.0 434.8,436.0 435.7,533.2 436.6,530.5 437.5,532.8 438.3,528.3 439.2,524.6 440.1,529.5 441.0,530.0 441.8,534.1 442.7,532.6 443.6,531.4 444.5,532.1 445.4,533.0 446.2,533.1 447.1,531.7 448.0,523.1 448.9,529.7 449.8,527.6 450.6,526.1 451.5,529.6 452.4,533.0 453.3,460.0 454.1,525.0 455.0,523.6 455.9,529.8 456.8,517.8 457.7,529.3 458.5,526.2 459.4,534.2 460.3,534.3 461.2,530.9 462.1,528.1 462.9,522.2 463.8,525.7 464.7,524.6 465.6,525.5 466.4,533.5 467.3,534.3 468.2,534.1 469.1,527.2 470.0,530.4 470.8,534.3 471.7,527.7 472.6,532.7 473.5,520.8 474.4,534.1 475.2,531.8 476.1,531.2 477.0,534.3 477.9,532.3 478.7,527.3 479.6,522.7 480.5,530.6 481.4,529.8 482.3,527.2 483.1,530.0 484.0,534.1 484.9,534.2 485.8,530.0 486.6,532.8 487.5,534.1 488.4,393.0 489.3,533.5 490.2,530.7 491.0,528.3 491.9,533.6 492.8,523.8 493.7,533.3 494.6,530.6 495.4,534.3 496.3,527.9 497.2,534.3 498.1,516.0 498.9,527.6 499.8,524.7 500.7,532.2 501.6,523.3 502.5,524.7 503.3,522.3 504.2,529.6 505.1,528.5 506.0,534.2 506.9,534.1 507.7,530.5 508.6,534.2 509.5,530.8 510.4,534.3 511.2,529.9 512.1,533.1 513.0,527.1 513.9,526.8 514.8,528.0 515.6,521.7 516.5,534.2 517.4,533.1 518.3,526.9 519.2,521.4 520.0,532.1 520.9,527.2 521.8,534.2 522.7,461.0 523.5,525.7 524.4,513.0 525.3,533.1 526.2,532.7 527.1,521.7 527.9,530.9 528.8,531.6 529.7,534.3 530.6,528.8 531.5,526.2 532.3,523.2 533.2,530.2 534.1,534.0 535.0,494.0 535.8,534.3 536.7,523.7 537.6,533.5 538.5,531.1 539.4,530.8 540.2,533.0 541.1,526.8 542.0,532.2 542.9,529.9 543.8,531.6 544.6,534.3 545.5,534.2 546.4,530.1 547.3,529.4 548.1,534.3 549.0,527.6 549.9,521.7 550.8,522.7 551.7,534.2 552.5,524.7 553.4,534.3 554.3,525.6 555.2,533.5 556.0,534.0 556.9,534.0 557.8,530.8 558.7,532.7 559.6,528.3 560.4,534.3 561.3,531.2 562.2,530.1 563.1,534.3 564.0,534.3 564.8,531.4 565.7,522.3 566.6,531.5 567.5,528.5 568.3,534.3 569.2,522.8 570.1,529.5 571.0,533.9 571.9,524.8 572.7,533.8 573.6,528.0 574.5,534.2 575.4,531.3 576.3,521.7 577.1,533.2 578.0,523.3 578.9,533.3 579.8,533.9 580.6,532.4 581.5,526.4 582.4,534.3 583.3,534.3 584.2,521.8 585.0,522.1 585.9,528.7 586.8,532.1 587.7,534.2 588.6,522.5 589.4,534.3 590.3,530.3 591.2,530.8 592.1,425.0 592.9,533.1 593.8,526.9 594.7,524.7 595.6,532.7 596.5,531.1 597.3,514.4 598.2,531.4 599.1,534.2 600.0,532.4 600.9,509.0 601.7,524.5 602.6,526.5 603.5,534.2 604.4,500.0 605.2,531.4 606.1,534.3 607.0,534.1 607.9,521.4 608.8,532.5 609.6,534.2 610.5,526.4 611.4,529.4 612.3,480.0 613.1,534.3 614.0,524.1 614.9,531.1 615.8,525.9 616.7,501.2 617.5,534.2 618.4,522.3 619.3,530.2 620.2,526.5 621.1,529.0 621.9,531.0 622.8,527.5 623.7,524.8 624.6,533.1 625.4,533.6 626.3,534.3 627.2,534.1 628.1,527.6 629.0,534.3 629.8,523.7 630.7,533.8 631.6,529.9 632.5,529.9 633.4,533.9 634.2,532.7 635.1,532.2 636.0,533.2 636.9,528.9 637.7,534.2 638.6,528.1 639.5,527.2 640.4,531.5 641.3,531.5 642.1,521.7 643.0,526.9 643.9,533.1 644.8,522.4 645.7,534.3 646.5,533.9 647.4,505.2 648.3,525.6 649.2,531.1 650.0,525.6 650.9,531.9 651.8,534.2 652.7,523.4 653.6,527.7 654.4,534.3 655.3,530.7 656.2,528.1 657.1,524.8 658.0,526.9 658.8,532.4 659.7,504.0 660.6,530.3 661.5,529.5 662.3,530.5 663.2,525.2 664.1,528.5 665.0,506.4 665.9,521.5 666.7,522.0 667.6,528.0 668.5,530.8 669.4,526.3 670.2,528.7 671.1,508.7 672.0,528.7 672.9,522.2 673.8,531.7 674.6,534.1 675.5,533.6 676.4,522.2 677.3,534.2 678.2,528.4 679.0,526.9 679.9,533.9 680.8,526.2 681.7,530.8 682.5,534.3 683.4,522.4 684.3,521.6 685.2,523.1 686.1,533.4 686.9,533.8 687.8,529.9 688.7,523.4 689.6,533.0 690.5,533.4 691.3,531.3 692.2,534.1 693.1,533.2 694.0,522.9 694.8,522.3 695.7,531.9 696.6,534.3 697.5,533.1 698.4,522.1 699.2,533.9 700.1,532.9 701.0,528.9 701.9,521.7 702.8,531.8 703.6,524.1 704.5,532.7 705.4,498.0 706.3,534.2 707.1,533.6 708.0,531.7 708.9,529.5 709.8,534.2 710.7,534.3 711.5,534.2 712.4,524.7 713.3,522.3 714.2,532.1 715.1,526.4 715.9,523.8 716.8,533.9 717.7,523.9 718.6,529.2 719.4,533.0 720.3,522.1 721.2,534.3 722.1,531.5 723.0,533.9 723.8,534.2 724.7,528.2 725.6,523.8 726.5,522.9 727.4,525.2 728.2,513.8 729.1,531.6 730.0,533.9 730.9,533.1 731.7,531.3 732.6,525.2 733.5,529.2 734.4,530.5 735.3,527.5 736.1,487.0 737.0,521.4 737.9,530.6 738.8,531.4 739.6,500.0 740.5,527.3 741.4,526.4 742.3,523.2 743.2,529.5 744.0,534.3 744.9,534.2 745.8,525.1 746.7,533.6 747.6,521.9 748.4,533.0 749.3,528.8 750.2,530.0 751.1,534.0 751.9,530.0 752.8,533.3 753.7,534.3 754.6,525.0 755.5,527.4 756.3,533.2 757.2,518.1 758.1,531.3 759.0,527.6 759.9,534.0 760.7,531.5 761.6,533.3 762.5,533.7 763.4,533.0 764.2,534.3 765.1,526.8 766.0,527.2 766.9,531.5 767.8,523.2 768.6,521.8 769.5,533.0 770.4,532.9 771.3,532.7 772.2,513.0 773.0,530.2 773.9,533.2 774.8,531.7 775.7,534.1 776.5,522.3 777.4,525.9 778.3,529.7 779.2,534.2 780.1,534.3 780.9,529.3 781.8,523.6 782.7,534.0 783.6,533.8 784.5,523.5 785.3,533.0 786.2,490.0 787.1,534.3 788.0,532.2 788.8,523.1 789.7,445.0 790.6,534.2 791.5,533.2 792.4,533.5 793.2,532.2 794.1,480.0 795.0,533.8 795.9,528.4 796.8,529.3 797.6,524.9 798.5,523.2 799.4,529.4 800.3,533.5 801.1,531.4 802.0,531.9 802.9,524.1 803.8,530.9 804.7,524.0 805.5,533.9 806.4,527.8 807.3,530.3 808.2,526.3 809.0,533.0 809.9,534.2 810.8,533.6 811.7,532.5 812.6,524.9 813.4,527.0 814.3,534.3 815.2,526.1 816.1,531.8 817.0,522.4 817.8,533.0 818.7,528.1 819.6,524.1 820.5,522.0 821.3,524.6 822.2,513.5 823.1,534.2 824.0,525.2 824.9,532.7 825.7,533.7 826.6,534.2 827.5,534.2 828.4,533.5 829.3,528.9 830.1,534.3 831.0,527.6 831.9,490.0 832.8,531.7 833.6,531.6 834.5,534.3 835.4,461.0 836.3,524.7 837.2,534.3 838.0,524.2 838.9,470.0 839.8,533.5 840.7,534.0 841.6,533.7 842.4,525.4 843.3,529.2 844.2,534.2 845.1,530.6 845.9,531.5 846.8,530.0 847.7,504.2 848.6,532.9 849.5,534.3 850.3,532.3 851.2,530.2 852.1,524.8 853.0,534.3 853.9,528.0 854.7,533.5 855.6,524.1 856.5,532.8 857.4,526.4 858.2,532.0 859.1,529.1 860.0,529.9 860.9,532.3 861.8,534.2 862.6,534.3 863.5,531.5 864.4,524.2 865.3,501.0 866.1,528.8 867.0,534.2 867.9,530.8 868.8,513.6 869.7,527.2 870.5,534.3 871.4,530.1 872.3,533.8 873.2,528.1 874.1,530.3 874.9,530.8 875.8,533.3 876.7,524.6 877.6,534.1 878.4,526.6 879.3,533.9 880.2,532.5 881.1,534.0 882.0,522.8 882.8,530.4 883.7,534.2 884.6,533.0 885.5,526.0 886.4,520.1 887.2,512.3 888.1,533.6 889.0,524.0 889.9,531.3 890.7,526.6 891.6,524.9 892.5,527.8 893.4,533.3 894.3,530.1 895.1,533.4 896.0,531.8 896.9,524.6 897.8,533.3 898.7,532.8 899.5,532.9 900.4,534.2 901.3,534.3 902.2,528.1 903.0,522.5 903.9,526.7 904.8,526.3 905.7,534.0 906.6,530.6 907.4,522.9 908.3,532.2 909.2,527.5 910.1,533.7 911.0,522.2 911.8,531.2 912.7,525.2 913.6,530.4 914.5,530.7 915.3,532.1 916.2,526.9 917.1,524.5 918.0,533.7 918.9,534.3 919.7,534.3 920.6,525.3 921.5,525.2 922.4,532.2 923.2,523.6 924.1,522.2 925.0,534.3 925.9,530.4 926.8,530.4 927.6,532.7 928.5,530.2 929.4,532.2 930.3,531.2 931.2,525.5 932.0,533.4 932.9,533.0 933.8,532.7 934.7,533.4 935.5,524.6 936.4,521.7 937.3,527.7 938.2,528.6 939.1,530.9 939.9,532.2 940.8,532.4 941.7,532.7 942.6,532.8 943.5,534.3 944.3,526.9 945.2,532.7 946.1,531.2 947.0,531.9 947.8,533.3 948.7,532.5 949.6,534.3 950.5,528.0 951.4,529.9 952.2,529.0 953.1,531.7 954.0,534.3 954.9,534.0 955.8,530.0 956.6,534.2 957.5,532.8 958.4,533.8 959.3,524.6 960.1,523.0 961.0,534.3 961.9,533.8 962.8,526.3 963.7,522.1 964.5,527.3 965.4,534.0 966.3,522.4 967.2,527.1 968.1,523.5 968.9,532.0 969.8,414.0 970.7,533.9 971.6,534.3 972.4,520.8 973.3,533.6 974.2,533.1 975.1,532.8 976.0,534.3 976.8,533.9 977.7,523.9 978.6,532.1 979.5,528.7 980.4,533.1 981.2,530.3 982.1,523.7 983.0,533.8 983.9,534.3 984.7,527.8 985.6,529.1 986.5,530.9 987.4,526.4 988.3,528.8 989.1,529.7 990.0,533.2 990.9,533.2 991.8,519.1 992.6,529.7 993.5,523.7 994.4,533.8 995.3,532.2 996.2,530.7 997.0,528.6 997.9,534.0 998.8,525.7 999.7,531.6 1000.6,532.8 1001.4,532.6 1002.3,522.0 1003.2,523.5 1004.1,414.0 1004.9,533.9 1005.8,533.4 1006.7,533.0 1007.6,523.8 1008.5,520.2 1009.3,530.2 1010.2,522.0 1011.1,534.1 1012.0,533.6 1012.9,526.3 1013.7,531.1 1014.6,534.2 1015.5,530.4 1016.4,534.2 1017.2,534.3 1018.1,532.8 1019.0,524.6 1019.9,527.7 1020.8,532.4 1021.6,511.3 1022.5,534.2 1023.4,526.2 1024.3,526.3 1025.2,534.1 1026.0,522.7 1026.9,517.0 1027.8,534.2 1028.7,524.7 1029.5,534.0 1030.4,525.5 1031.3,533.8 1032.2,531.1 1033.1,534.0 1033.9,534.2 1034.8,532.8 1035.7,519.0 1036.6,534.3 1037.5,528.6 1038.3,534.0 1039.2,526.3 1040.1,534.2 1041.0,533.2 1041.8,526.5 1042.7,517.9 1043.6,533.8 1044.5,534.2 1045.4,527.8 1046.2,532.5 1047.1,521.5 1048.0,534.1 1048.9,529.5 1049.8,525.8 1050.6,525.6 1051.5,522.1 1052.4,526.2 1053.3,528.3 1054.1,527.0 1055.0,522.9 1055.9,524.6 1056.8,534.2 1057.7,530.5 1058.5,525.3 1059.4,532.7 1060.3,534.3 1061.2,533.2 1062.0,532.1 1062.9,534.1 1063.8,534.0 1064.7,533.4 1065.6,534.0 1066.4,531.9 1067.3,528.2 1068.2,521.9 1069.1,531.7 1070.0,521.7 1070.8,530.3 1071.7,533.2 1072.6,533.7 1073.5,528.4 1074.3,528.1 1075.2,529.2 1076.1,524.6 1077.0,533.1 1077.9,534.1 1078.7,533.4 1079.6,526.0 1080.5,532.6 1081.4,532.9 1082.3,534.2 1083.1,534.3 1084.0,529.0 1084.9,532.4 1085.8,533.7 1086.6,523.7 1087.5,522.8 1088.4,523.9 1089.3,525.1 1090.2,528.6 1091.0,525.4 1091.9,533.7 1092.8,527.7 1093.7,524.1 1094.6,525.0 1095.4,533.0 1096.3,530.8 1097.2,521.5 1098.1,533.7 1098.9,531.6 1099.8,533.7 1100.7,534.2 1101.6,524.2 1102.5,524.2 1103.3,522.4 1104.2,518.6 1105.1,521.6 1106.0,534.1 1106.9,531.0 1107.7,523.7 1108.6,529.1 1109.5,534.1 1110.4,533.6 1111.2,532.5 1112.1,530.8 1113.0,464.0 1113.9,533.3 1114.8,525.9 1115.6,526.3 1116.5,530.7 1117.4,530.2 1118.3,522.9 1119.1,530.0 1120.0,528.7 1120.9,526.2 1121.8,531.7 1122.7,530.6 1123.5,526.6 1124.4,525.6 1125.3,523.7 1126.2,522.5 1127.1,529.4 1127.9,533.6 1128.8,525.6 1129.7,421.0 1130.6,528.7 1131.4,520.5 1132.3,524.0 1133.2,534.2 1134.1,519.9 1135.0,480.0 1135.8,534.2 1136.7,527.8 1137.6,525.7 1138.5,526.2 1139.4,525.2 1140.2,470.0 1141.1,528.3 1142.0,534.1 1142.9,527.2 1143.7,405.0 1144.6,529.6 1145.5,519.7 1146.4,530.9 1147.3,450.0 1148.1,528.8 1149.0,532.4 1149.9,532.2 1150.8,468.0 1151.7,531.9 1152.5,528.1 1153.4,534.3 1154.3,532.5 1155.2,480.0 1156.0,527.9 1156.9,533.8 1157.8,528.7 1158.7,527.1 1159.6,523.6 1160.4,490.0 1161.3,533.1 1162.2,534.3 1163.1,516.6 1164.0,527.1 1164.8,470.0 1165.7,534.0 1166.6,523.4 1167.5,524.1 1168.3,528.4 1169.2,528.8 1170.1,518.1 1171.0,445.0 1171.9,533.3 1172.7,531.1 1173.6,525.1 1174.5,530.7 1175.4,532.5 1176.2,516.9 1177.1,529.5 1178.0,526.7 1178.9,529.5 1179.8,490.0 1180.6,534.2 1181.5,525.7 1182.4,526.0 1183.3,531.8 1184.2,525.6 1185.0,527.5 1185.9,533.9 1186.8,530.1 1187.7,530.9 1188.5,522.4 1189.4,526.4 1190.3,480.0 1191.2,522.6 1192.1,527.7 1192.9,534.1 1193.8,533.2 1194.7,531.9 1195.6,534.2 1196.5,509.6 1197.3,525.4 1198.2,529.4 1199.1,525.3 1200.0,530.3 1200.8,514.0 1201.7,533.5 1202.6,533.1 1203.5,533.8 1204.4,531.6 1205.2,533.9 1206.1,533.4 1207.0,533.9 1207.9,530.7 1208.8,529.4 1209.6,531.3 1210.5,534.0 1211.4,527.9 1212.3,533.7 1213.1,533.2 1214.0,531.3 1214.9,534.3 1215.8,531.0 1216.7,522.4 1217.5,533.9 1218.4,473.0 1219.3,531.3 1220.2,513.1 1221.1,528.2 1221.9,532.2 1222.8,532.0 1223.7,533.7 1224.6,534.2 1225.4,524.8 1226.3,534.2 1227.2,522.2 1228.1,534.3 1229.0,532.4 1229.8,531.9 1230.7,533.2 1231.6,530.3 1232.5,534.3 1233.4,527.4 1234.2,520.5 1235.1,523.5 1236.0,526.9 1236.9,532.3 1237.7,534.3 1238.6,527.7 1239.5,507.0 1240.4,533.3 1241.3,530.8 1242.1,532.6 1243.0,533.8 1243.9,530.8 1244.8,531.8 1245.6,532.9 1246.5,528.7 1247.4,526.5 1248.3,521.9 1249.2,531.6 1250.0,532.7 1250.9,533.9 1251.8,531.5 1252.7,532.9 1253.6,533.0 1254.4,533.0 1255.3,504.1 1256.2,533.8 1257.1,525.4 1257.9,527.6 1258.8,528.7 1259.7,500.0 1260.6,533.1 1261.5,524.2 1262.3,532.3 1263.2,533.9 1264.1,534.3 1265.0,526.8 1265.9,531.0 1266.7,531.9 1267.6,534.1 1268.5,528.0 1269.4,523.8 1270.2,516.9 1271.1,531.5 1272.0,529.0 1272.9,533.8 1273.8,533.5 1274.6,532.6 1275.5,528.2 1276.4,531.8 1277.3,526.5 1278.2,534.1 1279.0,530.6 1279.9,529.1 1280.8,534.1 1281.7,526.8 1282.5,528.3 1283.4,529.8 1284.3,530.4 1285.2,526.9 1286.1,532.2 1286.9,534.1 1287.8,530.3 1288.7,532.1 1289.6,505.0 1290.5,529.9 1291.3,523.9 1292.2,530.4 1293.1,527.7 1294.0,524.0 1294.8,528.1 1295.7,534.3 1296.6,533.4 1297.5,530.7 1298.4,523.4 1299.2,533.7 1300.1,531.9 1301.0,525.7 1301.9,525.3 1302.8,524.8 1303.6,522.5 1304.5,533.0 1305.4,525.4 1306.3,529.6 1307.1,508.7 1308.0,525.6 1308.9,531.7 1309.8,521.9 1310.7,534.2 1311.5,527.9 1312.4,533.2 1313.3,526.9 1314.2,531.7 1315.0,531.3 1315.9,527.3 1316.8,529.5 1317.7,533.3 1318.6,530.5 1319.4,523.8 1320.3,533.2 1321.2,534.1 1322.1,534.3 1323.0,534.1 1323.8,533.6 1324.7,533.9 1325.6,533.6 1326.5,529.5 1327.3,522.0 1328.2,526.7 1329.1,534.3 1330.0,534.2 1330.9,524.2 1331.7,534.3 1332.6,534.3 1333.5,530.0 1334.4,533.7 1335.3,532.9 1336.1,527.0 1337.0,532.4 1337.9,530.7 1338.8,531.8 1339.6,525.9 1340.5,529.9 1341.4,525.8 1342.3,531.2 1343.2,533.8 1344.0,532.0 1344.9,533.5 1345.8,534.3 1346.7,528.3 1347.6,530.3 1348.4,534.3 1349.3,526.4 1350.2,530.7 1351.1,533.0 1351.9,528.3 1352.8,534.3 1353.7,527.7 1354.6,534.3 1355.5,531.5 1356.3,528.3 1357.2,532.6 1358.1,533.8 1359.0,532.1 1359.9,533.6 1360.7,525.8 1361.6,528.8 1362.5,526.8 1363.4,534.2 1364.2,527.8 1365.1,533.1 1366.0,534.0" fill="none" stroke="#00c000" stroke-width="1.0" stroke-linejoin="round"/><polyline points="101.0,535.6 101.9,534.7 102.8,531.4 103.6,527.4 104.5,535.6 105.4,533.7 106.3,533.6 107.1,536.0 108.0,526.7 108.9,529.5 109.8,536.1 110.7,532.1 111.5,536.2 112.4,533.7 113.3,526.4 114.2,525.4 115.1,528.2 115.9,525.0 116.8,536.1 117.7,535.7 118.6,534.1 119.4,535.3 120.3,534.6 121.2,532.2 122.1,525.8 123.0,525.2 123.8,523.5 124.7,535.9 125.6,524.2 126.5,532.4 127.4,535.8 128.2,532.4 129.1,536.1 130.0,508.4 130.9,534.4 131.7,535.3 132.6,517.6 133.5,536.2 134.4,456.0 135.3,523.8 136.1,498.0 137.0,536.1 137.9,536.2 138.8,534.4 139.7,516.9 140.5,535.2 141.4,526.0 142.3,533.8 143.2,531.3 144.0,532.6 144.9,524.9 145.8,534.1 146.7,535.6 147.6,523.9 148.4,503.0 149.3,523.3 150.2,522.2 151.1,533.8 152.0,534.9" fill="none" stroke="#0080ff" stroke-width="1.0" stroke-linejoin="round"/><polyline points="208.2,523.8 209.1,529.9 209.9,527.1 210.8,536.1 211.7,526.2 212.6,533.7 213.4,525.2 214.3,536.1 215.2,533.1 216.1,534.4 217.0,529.8 217.8,528.6 218.7,527.7 219.6,534.7 220.5,524.7 221.4,533.7 222.2,535.4 223.1,523.6 224.0,526.1 224.9,530.1 225.7,533.6 226.6,534.3 227.5,536.1 228.4,536.1 229.3,524.0 230.1,523.4 231.0,532.5 231.9,530.1 232.8,532.7 233.6,534.5 234.5,534.0 235.4,536.1 236.3,536.2 237.2,526.6 238.0,532.5 238.9,535.7 239.8,532.3 240.7,534.6 241.6,535.0 242.4,530.7 243.3,530.6 244.2,532.9 245.1,535.2 245.9,535.9 246.8,518.9 247.7,526.6 248.6,530.6 249.5,535.0 250.3,516.1 251.2,531.6 252.1,534.2 253.0,526.7 253.9,529.8 254.7,535.1 255.6,533.1 256.5,532.1 257.4,528.4 258.2,536.0 259.1,526.0 260.0,532.8 260.9,518.8 261.8,536.2 262.6,535.6 263.5,530.7 264.4,514.8 265.3,528.6 266.2,515.4 267.0,533.0 267.9,528.6 268.8,528.1 269.7,535.6 270.5,529.0 271.4,529.2 272.3,533.6 273.2,530.9 274.1,533.2 274.9,523.8 275.8,536.1 276.7,531.8 277.6,535.4 278.5,533.8 279.3,536.2 280.2,536.2 281.1,533.1 282.0,531.9 282.8,534.8 283.7,535.8 284.6,531.2 285.5,533.9 286.4,535.4 287.2,535.1 288.1,526.1 289.0,536.1 289.9,535.3 290.8,533.6 291.6,533.1 292.5,530.3 293.4,536.2 294.3,529.3 295.1,523.9 296.0,527.7 296.9,524.3 297.8,525.0 298.7,535.5 299.5,535.6 300.4,530.8 301.3,533.8 302.2,532.0 303.0,526.5 303.9,527.9 304.8,530.9 305.7,535.3 306.6,535.7 307.4,535.7 308.3,530.5 309.2,527.1 310.1,525.5 311.0,535.3 311.8,532.9 312.7,528.5 313.6,529.5 314.5,535.5 315.3,523.8 316.2,530.1 317.1,536.1 318.0,532.1 318.9,533.7 319.7,534.9 320.6,535.1 321.5,536.0 322.4,535.0 323.3,525.0 324.1,527.0 325.0,523.3 325.9,527.0 326.8,528.6 327.6,534.8 328.5,531.4 329.4,525.2 330.3,527.1 331.2,534.7 332.0,534.4 332.9,535.4 333.8,536.2 334.7,528.3 335.6,535.2 336.4,524.3 337.3,536.1 338.2,532.5 339.1,533.3 339.9,532.3 340.8,534.7 341.7,535.2 342.6,529.4 343.5,536.0 344.3,530.0 345.2,525.6 346.1,535.9 347.0,523.3 347.9,535.7 348.7,536.2 349.6,531.5 350.5,525.7 351.4,527.3 352.2,525.1 353.1,529.8 354.0,534.4 354.9,529.9 355.8,532.2 356.6,520.7 357.5,534.5 358.4,529.7 359.3,531.4 360.1,532.8 361.0,535.9 361.9,534.4 362.8,520.4 363.7,534.9 364.5,536.1 365.4,531.4 366.3,523.9 367.2,534.9 368.1,533.0 368.9,535.5 369.8,533.3 370.7,530.6 371.6,536.1 372.4,532.0 373.3,526.9 374.2,530.5 375.1,527.4 376.0,525.0 376.8,531.7 377.7,524.4 378.6,533.1 379.5,536.2 380.4,530.6 381.2,528.4 382.1,529.8 383.0,526.9 383.9,536.1 384.7,535.7 385.6,525.1 386.5,536.1 387.4,524.2 388.3,535.5 389.1,515.3 390.0,531.3 390.9,527.9 391.8,526.2 392.7,533.7 393.5,534.0 394.4,532.7 395.3,533.1 396.2,535.1 397.0,532.9 397.9,534.0 398.8,529.8 399.7,532.9 400.6,533.4 401.4,525.8 402.3,535.2 403.2,534.7 404.1,532.0 405.0,524.7 405.8,536.2 406.7,526.2 407.6,531.0 408.5,536.0 409.3,536.2 410.2,533.3 411.1,534.4 412.0,533.7 412.9,517.3 413.7,535.8 414.6,535.7 415.5,536.1 416.4,532.4 417.2,528.6 418.1,525.9 419.0,536.2 419.9,531.1 420.8,524.1 421.6,535.1 422.5,535.5 423.4,530.3 424.3,534.7 425.2,533.7 426.0,533.2 426.9,536.2 427.8,524.0 428.7,535.0 429.5,526.5 430.4,532.6 431.3,525.6 432.2,535.8 433.1,469.0 433.9,535.8 434.8,532.3 435.7,535.5 436.6,523.4 437.5,528.0 438.3,533.9 439.2,534.6 440.1,514.1 441.0,533.0 441.8,523.5 442.7,535.2 443.6,535.0 444.5,526.4 445.4,525.6 446.2,529.4 447.1,532.6 448.0,528.0 448.9,528.2 449.8,536.2 450.6,533.9 451.5,525.5 452.4,535.6 453.3,536.1 454.1,529.8 455.0,533.7 455.9,535.7 456.8,522.2 457.7,529.7 458.5,533.7 459.4,531.9 460.3,535.5 461.2,527.4 462.1,536.2 462.9,528.6 463.8,503.0 464.7,535.4 465.6,535.3 466.4,536.0 467.3,536.1 468.2,536.2 469.1,535.9 470.0,536.2 470.8,536.1 471.7,536.2 472.6,536.0 473.5,528.8 474.4,534.8 475.2,531.4 476.1,533.1 477.0,532.9 477.9,535.8 478.7,510.0 479.6,535.4 480.5,527.0 481.4,531.8 482.3,535.6 483.1,490.0 484.0,529.5 484.9,433.0 485.8,529.1 486.6,536.1 487.5,532.8 488.4,470.0 489.3,533.6 490.2,525.7 491.0,525.7 491.9,536.2 492.8,528.0 493.7,536.0 494.6,525.2 495.4,534.8 496.3,536.1 497.2,532.2 498.1,529.0 498.9,524.0 499.8,526.2 500.7,533.4 501.6,536.0 502.5,535.8 503.3,524.5 504.2,536.1 505.1,532.7 506.0,534.1 506.9,529.9 507.7,536.1 508.6,535.1 509.5,524.6 510.4,527.5 511.2,528.9 512.1,536.2 513.0,536.0 513.9,535.1 514.8,528.7 515.6,525.5 516.5,524.9 517.4,526.1 518.3,533.8 519.2,535.4 520.0,536.2 520.9,509.9 521.8,531.4 522.7,533.4 523.5,525.5 524.4,535.6 525.3,536.2 526.2,532.2 527.1,528.9 527.9,530.3 528.8,536.2 529.7,534.0 530.6,532.0 531.5,530.9 532.3,513.3 533.2,529.5 534.1,535.1 535.0,536.1 535.8,530.2 536.7,534.1 537.6,530.3 538.5,535.7 539.4,531.4 540.2,533.7 541.1,531.9 542.0,528.3 542.9,532.6 543.8,531.1 544.6,533.2 545.5,536.1 546.4,535.9 547.3,531.1 548.1,526.8 549.0,525.3 549.9,535.9 550.8,531.4 551.7,535.5 552.5,534.5 553.4,534.9 554.3,534.8 555.2,535.0 556.0,531.2 556.9,533.7 557.8,532.2 558.7,536.1 559.6,536.1 560.4,526.4 561.3,534.4 562.2,533.5 563.1,524.4 564.0,533.4 564.8,532.3 565.7,534.5 566.6,536.1 567.5,523.5 568.3,532.1 569.2,527.7 570.1,534.7 571.0,533.0 571.9,528.9 572.7,534.0 573.6,532.5 574.5,531.6 575.4,528.1 576.3,534.7 577.1,536.0 578.0,536.0 578.9,455.0 579.8,529.2 580.6,536.0 581.5,534.0 582.4,525.7 583.3,470.0 584.2,530.3 585.0,534.9 585.9,533.3 586.8,534.9 587.7,480.0 588.6,535.4 589.4,533.8 590.3,536.0 591.2,533.2 592.1,535.4 592.9,535.8 593.8,526.4 594.7,532.9 595.6,425.0 596.5,536.2 597.3,535.3 598.2,534.9 599.1,522.1 600.0,478.0 600.9,535.3 601.7,532.6 602.6,530.2 603.5,527.0 604.4,531.4 605.2,536.0 606.1,440.0 607.0,532.2 607.9,310.0 608.8,525.8 609.6,535.0 610.5,524.6 611.4,470.0 612.3,536.1 613.1,536.1 614.0,536.2 614.9,533.2 615.8,526.9 616.7,535.2 617.5,531.1 618.4,535.4 619.3,528.5 620.2,536.1 621.1,536.2 621.9,535.3 622.8,526.2 623.7,526.1 624.6,536.2 625.4,532.8 626.3,534.1 627.2,536.2 628.1,526.3 629.0,516.4 629.8,527.8 630.7,533.4 631.6,524.0 632.5,526.9 633.4,528.3 634.2,533.6 635.1,526.9 636.0,536.2 636.9,535.7 637.7,535.8 638.6,534.2 639.5,535.2 640.4,533.4 641.3,528.8 642.1,534.8 643.0,527.7 643.9,536.0 644.8,534.6 645.7,535.5 646.5,532.7 647.4,530.7 648.3,525.6 649.2,526.6 650.0,534.7 650.9,526.7 651.8,524.7 652.7,535.5 653.6,535.1 654.4,529.3 655.3,535.8 656.2,528.0 657.1,527.0 658.0,536.2 658.8,530.3 659.7,533.9 660.6,533.4 661.5,534.5 662.3,536.2 663.2,530.5 664.1,531.9 665.0,534.5 665.9,536.0 666.7,530.0 667.6,524.1 668.5,534.9 669.4,535.8 670.2,533.4 671.1,527.7 672.0,530.0 672.9,534.6 673.8,523.5 674.6,532.6 675.5,529.5 676.4,530.0 677.3,515.9 678.2,532.9 679.0,524.8 679.9,532.0 680.8,525.4 681.7,524.0 682.5,504.7 683.4,533.4 684.3,527.5 685.2,531.2 686.1,524.6 686.9,535.2 687.8,536.2 688.7,536.2 689.6,529.3 690.5,531.1 691.3,535.7 692.2,527.0 693.1,530.6 694.0,536.1 694.8,534.5 695.7,526.6 696.6,532.4 697.5,530.2 698.4,529.2 699.2,528.6 700.1,528.8 701.0,535.9 701.9,534.2 702.8,531.6 703.6,530.2 704.5,535.5 705.4,536.1 706.3,535.6 707.1,528.3 708.0,527.7 708.9,531.6 709.8,529.6 710.7,528.7 711.5,526.3 712.4,527.5 713.3,530.9 714.2,482.0 715.1,525.4 715.9,513.9 716.8,532.3 717.7,500.0 718.6,527.5 719.4,533.0 720.3,530.7 721.2,534.8 722.1,533.8 723.0,535.3 723.8,531.0 724.7,535.9 725.6,479.0 726.5,535.5 727.4,533.1 728.2,525.3 729.1,535.3 730.0,495.0 730.9,536.2 731.7,526.5 732.6,530.1 733.5,532.4 734.4,533.4 735.3,527.7 736.1,526.5 737.0,534.6 737.9,523.7 738.8,534.1 739.6,534.8 740.5,535.0 741.4,534.8 742.3,528.1 743.2,535.3 744.0,533.8 744.9,532.5 745.8,534.1 746.7,525.4 747.6,536.2 748.4,531.6 749.3,533.6 750.2,536.1 751.1,536.1 751.9,484.0 752.8,534.2 753.7,535.7 754.6,532.4 755.5,535.0 756.3,527.0 757.2,535.3 758.1,523.8 759.0,531.1 759.9,536.0 760.7,529.7 761.6,524.0 762.5,534.4 763.4,535.9 764.2,525.0 765.1,536.0 766.0,536.1 766.9,523.1 767.8,528.4 768.6,534.4 769.5,513.0 770.4,511.4 771.3,535.6 772.2,525.7 773.0,524.5 773.9,523.7 774.8,531.6 775.7,533.3 776.5,525.9 777.4,530.8 778.3,535.6 779.2,535.6 780.1,529.0 780.9,535.6 781.8,534.9 782.7,535.4 783.6,531.7 784.5,525.7 785.3,523.8 786.2,526.4 787.1,523.4 788.0,527.9 788.8,531.9 789.7,526.8 790.6,535.9 791.5,524.7 792.4,535.6 793.2,527.8 794.1,531.8 795.0,535.5 795.9,532.8 796.8,536.1 797.6,524.8 798.5,517.9 799.4,525.0 800.3,535.8 801.1,527.2 802.0,524.4 802.9,535.6 803.8,524.0 804.7,535.9 805.5,536.1 806.4,536.1 807.3,526.3 808.2,535.9 809.0,526.0 809.9,529.8 810.8,529.1 811.7,535.1 812.6,526.3 813.4,520.9 814.3,528.1 815.2,525.9 816.1,536.2 817.0,536.2 817.8,532.8 818.7,522.0 819.6,535.4 820.5,533.4 821.3,535.9 822.2,536.0 823.1,533.4 824.0,536.1 824.9,525.0 825.7,533.1 826.6,526.9 827.5,524.8 828.4,535.1 829.3,535.7 830.1,529.0 831.0,536.0 831.9,536.2 832.8,524.9 833.6,532.7 834.5,535.1 835.4,532.5 836.3,534.4 837.2,532.5 838.0,509.0 838.9,525.9 839.8,536.1 840.7,534.9 841.6,531.7 842.4,532.3 843.3,526.5 844.2,536.2 845.1,523.2 845.9,533.1 846.8,536.1 847.7,536.2 848.6,526.8 849.5,527.8 850.3,536.2 851.2,526.3 852.1,528.7 853.0,532.2 853.9,532.1 854.7,524.8 855.6,535.0 856.5,528.9 857.4,533.3 858.2,535.6 859.1,524.3 860.0,532.4 860.9,515.4 861.8,534.1 862.6,534.9 863.5,534.0 864.4,536.2 865.3,534.4 866.1,529.7 867.0,531.0 867.9,534.3 868.8,521.7 869.7,536.1 870.5,535.9 871.4,524.8 872.3,536.0 873.2,536.1 874.1,529.0 874.9,535.8 875.8,526.5 876.7,533.2 877.6,536.2 878.4,536.0 879.3,536.0 880.2,531.3 881.1,536.1 882.0,535.8 882.8,536.2 883.7,535.2 884.6,526.4 885.5,532.9 886.4,522.9 887.2,533.6 888.1,531.8 889.0,536.1 889.9,532.4 890.7,535.7 891.6,527.6 892.5,533.2 893.4,509.2 894.3,524.1 895.1,528.7 896.0,530.0 896.9,528.8 897.8,534.4 898.7,529.6 899.5,533.8 900.4,535.0 901.3,535.2 902.2,533.8 903.0,534.4 903.9,536.1 904.8,536.0 905.7,524.8 906.6,525.7 907.4,536.0 908.3,522.1 909.2,533.3 910.1,530.1 911.0,527.9 911.8,524.3 912.7,535.4 913.6,531.1 914.5,528.0 915.3,536.0 916.2,536.1 917.1,535.8 918.0,534.5 918.9,531.4 919.7,523.9 920.6,531.8 921.5,535.3 922.4,529.9 923.2,534.1 924.1,535.8 925.0,534.4 925.9,535.5 926.8,532.0 927.6,526.6 928.5,534.1 929.4,536.2 930.3,525.2 931.2,526.7 932.0,510.5 932.9,526.7 933.8,524.9 934.7,530.4 935.5,513.8 936.4,535.9 937.3,534.7 938.2,534.7 939.1,532.7 939.9,530.7 940.8,528.3 941.7,536.0 942.6,532.4 943.5,534.0 944.3,529.2 945.2,533.2 946.1,534.2 947.0,528.3 947.8,524.6 948.7,534.1 949.6,530.1 950.5,525.1 951.4,535.7 952.2,530.0 953.1,529.4 954.0,534.2 954.9,529.1 955.8,530.7 956.6,525.9 957.5,507.6 958.4,525.8 959.3,535.8 960.1,534.6 961.0,534.9 961.9,536.2 962.8,532.9 963.7,534.3 964.5,527.9 965.4,535.6 966.3,527.9 967.2,529.3 968.1,536.2 968.9,536.2 969.8,534.1 970.7,529.7 971.6,533.7 972.4,533.3 973.3,525.5 974.2,529.0 975.1,526.0 976.0,535.8 976.8,530.5 977.7,528.1 978.6,531.4 979.5,536.1 980.4,535.0 981.2,536.2 982.1,514.8 983.0,535.3 983.9,535.7 984.7,533.4 985.6,536.2 986.5,530.1 987.4,536.2 988.3,532.4 989.1,529.7 990.0,531.1 990.9,528.0 991.8,522.7 992.6,531.3 993.5,536.1 994.4,535.5 995.3,535.2 996.2,526.7 997.0,524.5 997.9,534.3 998.8,532.0 999.7,534.0 1000.6,534.9 1001.4,535.4 1002.3,535.0 1003.2,527.7 1004.1,536.1 1004.9,529.9 1005.8,524.3 1006.7,534.1 1007.6,534.7 1008.5,533.8 1009.3,535.8 1010.2,534.1 1011.1,536.2 1012.0,536.2 1012.9,536.1 1013.7,530.9 1014.6,527.1 1015.5,535.2 1016.4,518.1 1017.2,536.1 1018.1,531.1 1019.0,529.3 1019.9,531.6 1020.8,530.0 1021.6,505.0 1022.5,526.7 1023.4,533.4 1024.3,535.3 1025.2,524.1 1026.0,528.6 1026.9,529.5 1027.8,526.8 1028.7,535.8 1029.5,525.3 1030.4,521.2 1031.3,530.8 1032.2,535.7 1033.1,533.5 1033.9,534.6 1034.8,536.0 1035.7,534.5 1036.6,528.3 1037.5,530.9 1038.3,531.8 1039.2,528.9 1040.1,526.7 1041.0,518.0 1041.8,536.1 1042.7,535.6 1043.6,527.6 1044.5,532.4 1045.4,532.1 1046.2,524.1 1047.1,535.7 1048.0,521.2 1048.9,523.6 1049.8,533.5 1050.6,533.2 1051.5,535.0 1052.4,526.9 1053.3,536.2 1054.1,536.0 1055.0,527.4 1055.9,527.1 1056.8,535.7 1057.7,532.7 1058.5,520.3 1059.4,533.3 1060.3,500.0 1061.2,531.9 1062.0,535.4 1062.9,534.7 1063.8,534.3 1064.7,534.2 1065.6,531.3 1066.4,532.4 1067.3,526.2 1068.2,527.2 1069.1,535.3 1070.0,529.1 1070.8,536.1 1071.7,523.6 1072.6,536.1 1073.5,536.1 1074.3,536.2 1075.2,535.4 1076.1,534.3 1077.0,530.8 1077.9,535.8 1078.7,536.0 1079.6,536.2 1080.5,526.6 1081.4,406.0 1082.3,529.4 1083.1,531.0 1084.0,530.7 1084.9,523.7 1085.8,534.6 1086.6,525.5 1087.5,533.9 1088.4,523.8 1089.3,525.4 1090.2,495.0 1091.0,535.9 1091.9,530.1 1092.8,524.7 1093.7,534.3 1094.6,535.3 1095.4,525.9 1096.3,536.1 1097.2,526.8 1098.1,532.4 1098.9,535.3 1099.8,525.6 1100.7,525.6 1101.6,526.4 1102.5,525.7 1103.3,533.6 1104.2,527.7 1105.1,535.5 1106.0,536.2 1106.9,530.8 1107.7,470.0 1108.6,523.5 1109.5,526.0 1110.4,535.8 1111.2,532.9 1112.1,480.0 1113.0,534.7 1113.9,532.9 1114.8,534.2 1115.6,429.0 1116.5,534.6 1117.4,531.3 1118.3,530.3 1119.1,534.8 1120.0,470.0 1120.9,536.1 1121.8,532.8 1122.7,462.0 1123.5,535.8 1124.4,536.2 1125.3,533.5 1126.2,523.2 1127.1,490.0 1127.9,534.3 1128.8,514.3 1129.7,532.9 1130.6,532.6 1131.4,518.4 1132.3,527.2 1133.2,533.7 1134.1,534.7 1135.0,536.0 1135.8,535.2 1136.7,536.2 1137.6,536.1 1138.5,525.2 1139.4,533.5 1140.2,535.8 1141.1,536.1 1142.0,525.3 1142.9,524.9 1143.7,535.4 1144.6,528.3 1145.5,526.2 1146.4,530.4 1147.3,533.2 1148.1,529.8 1149.0,536.2 1149.9,535.8 1150.8,536.2 1151.7,523.7 1152.5,531.0 1153.4,533.5 1154.3,525.4 1155.2,523.5 1156.0,528.2 1156.9,511.9 1157.8,527.9 1158.7,534.0 1159.6,535.3 1160.4,534.0 1161.3,534.9 1162.2,532.7 1163.1,530.2 1164.0,535.4 1164.8,523.9 1165.7,529.0 1166.6,528.6 1167.5,520.4 1168.3,536.1 1169.2,533.7 1170.1,535.0 1171.0,535.7 1171.9,536.0 1172.7,523.3 1173.6,532.9 1174.5,532.4 1175.4,535.8 1176.2,527.0 1177.1,532.3 1178.0,535.2 1178.9,533.2 1179.8,516.8 1180.6,535.7 1181.5,532.7 1182.4,535.5 1183.3,527.9 1184.2,531.7 1185.0,535.7 1185.9,536.2 1186.8,536.1 1187.7,529.7 1188.5,536.0 1189.4,536.2 1190.3,530.8 1191.2,532.6 1192.1,535.8 1192.9,535.3 1193.8,529.7 1194.7,528.9 1195.6,524.4 1196.5,533.1 1197.3,536.1 1198.2,536.2 1199.1,535.8 1200.0,534.8 1200.8,527.1 1201.7,532.8 1202.6,528.9 1203.5,529.4 1204.4,529.1 1205.2,515.3 1206.1,534.9 1207.0,525.0 1207.9,534.2 1208.8,536.1 1209.6,535.8 1210.5,528.5 1211.4,535.4 1212.3,529.5 1213.1,523.4 1214.0,525.1 1214.9,532.7 1215.8,525.4 1216.7,524.8 1217.5,535.1 1218.4,525.6 1219.3,533.2 1220.2,533.5 1221.1,528.9 1221.9,535.7 1222.8,535.8 1223.7,527.9 1224.6,536.1 1225.4,534.0 1226.3,534.2 1227.2,533.7 1228.1,532.3 1229.0,536.0 1229.8,520.2 1230.7,536.1 1231.6,513.6 1232.5,527.5 1233.4,535.7 1234.2,521.0 1235.1,525.9 1236.0,521.3 1236.9,529.7 1237.7,535.1 1238.6,534.2 1239.5,524.1 1240.4,528.9 1241.3,529.0 1242.1,533.3 1243.0,531.0 1243.9,525.0 1244.8,505.0 1245.6,531.5 1246.5,525.2 1247.4,534.7 1248.3,534.9 1249.2,528.2 1250.0,526.3 1250.9,525.6 1251.8,531.9 1252.7,532.9 1253.6,536.1 1254.4,530.4 1255.3,523.5 1256.2,535.5 1257.1,535.7 1257.9,529.7 1258.8,536.2 1259.7,500.0 1260.6,535.2 1261.5,533.3 1262.3,527.3 1263.2,523.7 1264.1,529.0 1265.0,528.8 1265.9,526.1 1266.7,531.3 1267.6,535.3 1268.5,531.0 1269.4,535.1 1270.2,536.1 1271.1,534.9 1272.0,532.1 1272.9,534.4 1273.8,530.3 1274.6,535.8 1275.5,533.9 1276.4,528.5 1277.3,524.8 1278.2,530.7 1279.0,524.0 1279.9,535.7 1280.8,530.8 1281.7,528.8 1282.5,535.4 1283.4,535.1 1284.3,535.4 1285.2,531.0 1286.1,536.2 1286.9,525.0 1287.8,535.7 1288.7,534.7 1289.6,536.1 1290.5,535.2 1291.3,531.4 1292.2,535.2 1293.1,529.9 1294.0,535.7 1294.8,517.8 1295.7,535.9 1296.6,536.2 1297.5,533.0 1298.4,535.7 1299.2,536.1 1300.1,500.0 1301.0,531.4 1301.9,536.2 1302.8,535.1 1303.6,522.3 1304.5,535.4 1305.4,536.0 1306.3,529.4 1307.1,535.1 1308.0,536.1 1308.9,535.6 1309.8,536.2 1310.7,532.7 1311.5,536.1 1312.4,512.3 1313.3,535.1 1314.2,535.6 1315.0,534.7 1315.9,530.0 1316.8,534.7 1317.7,533.0 1318.6,536.2 1319.4,528.8 1320.3,536.2 1321.2,523.4 1322.1,536.1 1323.0,523.4 1323.8,529.9 1324.7,526.4 1325.6,535.3 1326.5,532.2 1327.3,536.2 1328.2,527.9 1329.1,532.4 1330.0,528.4 1330.9,524.3 1331.7,533.8 1332.6,535.9 1333.5,534.4 1334.4,535.6 1335.3,533.4 1336.1,534.5 1337.0,525.9 1337.9,534.8 1338.8,525.3 1339.6,534.4 1340.5,534.0 1341.4,534.5 1342.3,530.5 1343.2,534.6 1344.0,527.3 1344.9,535.4 1345.8,535.7 1346.7,531.6 1347.6,528.1 1348.4,523.9 1349.3,524.6 1350.2,526.5 1351.1,524.0 1351.9,535.1 1352.8,536.2 1353.7,536.1 1354.6,530.3 1355.5,534.3 1356.3,530.4 1357.2,527.4 1358.1,523.5 1359.0,530.6 1359.9,531.5 1360.7,535.6 1361.6,525.2 1362.5,524.4 1363.4,535.7 1364.2,534.1 1365.1,534.7 1366.0,530.5" fill="none" stroke="#0080ff" stroke-width="1.0" stroke-linejoin="round"/></g>
<g><rect x="1310.3" y="123.1" width="12.4" height="12.4" fill="none" stroke="#c000ff" stroke-width="1.2"/><rect x="1310.1" y="141.8" width="12.8" height="12.8" fill="#00eeee"/><g stroke="#c04000" stroke-width="1.3" fill="none"><circle cx="1316.5" cy="167.2" r="4.8"/><path d="M1316.5 160.7V162.0M1316.5 172.4V173.7M1310.0 167.2H1311.3M1321.7 167.2H1323.0"/></g><circle cx="1316.6" cy="186.2" r="5.6" fill="#c8c800"/><path d="M1316.6 197.3L1325.0 209.8H1308.2Z" fill="none" stroke="#4169e1" stroke-width="1.2"/><path d="M1316.6 215.8L1325.6 229.2H1307.6Z" fill="#ffc020"/><path d="M1310.1 243.0H1323.1M1316.6 236.5V249.5" stroke="#008040" stroke-width="1.3"/><path d="M1308.2 258.0H1325.0L1316.6 270.4Z" fill="none" stroke="#c080ff" stroke-width="1.2"/><path d="M1308.2 277.0H1325.0L1316.6 289.4Z" fill="none" stroke="#306080" stroke-width="1.2"/><path d="M198.1 327.6H214.9L206.5 340.0Z" fill="none" stroke="#c080ff" stroke-width="1.2"/><path d="M198.1 346.8H214.9L206.5 359.2Z" fill="none" stroke="#306080" stroke-width="1.2"/><path d="M200.0 371.6H213.0M206.5 365.1V378.1" stroke="#008040" stroke-width="1.3"/><path d="M206.5 401.2L215.5 414.6H197.5Z" fill="#ffc020"/><rect x="200.3" y="427.2" width="12.4" height="12.4" fill="none" stroke="#c000ff" stroke-width="1.2"/><path d="M206.5 455.9L214.9 468.4H198.1Z" fill="none" stroke="#4169e1" stroke-width="1.2"/><rect x="200.1" y="481.0" width="12.8" height="12.8" fill="#00eeee"/></g>
<g><rect x="445.6" y="480.6" width="12.8" height="12.8" fill="#00eeee"/><rect x="594.3" y="480.6" width="12.8" height="12.8" fill="#00eeee"/><rect x="599.1" y="480.6" width="12.8" height="12.8" fill="#00eeee"/><rect x="667.6" y="480.6" width="12.8" height="12.8" fill="#00eeee"/><rect x="779.6" y="480.6" width="12.8" height="12.8" fill="#00eeee"/><rect x="837.6" y="480.6" width="12.8" height="12.8" fill="#00eeee"/><rect x="909.1" y="481.0" width="12.8" height="12.8" fill="#00eeee"/><rect x="988.0" y="481.0" width="12.8" height="12.8" fill="#00eeee"/><rect x="1003.2" y="481.0" width="12.8" height="12.8" fill="#00eeee"/><rect x="1042.1" y="481.0" width="12.8" height="12.8" fill="#00eeee"/><rect x="1046.1" y="481.0" width="12.8" height="12.8" fill="#00eeee"/><rect x="1060.1" y="481.0" width="12.8" height="12.8" fill="#00eeee"/><rect x="1137.1" y="481.0" width="12.8" height="12.8" fill="#00eeee"/><rect x="1147.1" y="481.0" width="12.8" height="12.8" fill="#00eeee"/><rect x="1185.0" y="481.0" width="12.8" height="12.8" fill="#00eeee"/><rect x="1201.1" y="481.0" width="12.8" height="12.8" fill="#00eeee"/><g stroke="#c04000" stroke-width="1.3" fill="none"><circle cx="103.5" cy="475.0" r="4.8"/><path d="M103.5 468.5V469.8M103.5 480.2V481.5M97.0 475.0H98.3M108.7 475.0H110.0"/></g><g stroke="#c04000" stroke-width="1.3" fill="none"><circle cx="149.0" cy="411.0" r="4.8"/><path d="M149.0 404.5V405.8M149.0 416.2V417.5M142.5 411.0H143.8M154.2 411.0H155.5"/></g><g stroke="#c04000" stroke-width="1.3" fill="none"><circle cx="208.6" cy="504.4" r="4.8"/><path d="M208.6 497.9V499.2M208.6 509.6V510.9M202.1 504.4H203.4M213.8 504.4H215.1"/></g><g stroke="#c04000" stroke-width="1.3" fill="none"><circle cx="255.4" cy="504.4" r="4.8"/><path d="M255.4 497.9V499.2M255.4 509.6V510.9M248.9 504.4H250.2M260.6 504.4H261.9"/></g><g stroke="#c04000" stroke-width="1.3" fill="none"><circle cx="261.0" cy="495.0" r="4.8"/><path d="M261.0 488.5V489.8M261.0 500.2V501.5M254.5 495.0H255.8M266.2 495.0H267.5"/></g><g stroke="#c04000" stroke-width="1.3" fill="none"><circle cx="307.0" cy="498.0" r="4.8"/><path d="M307.0 491.5V492.8M307.0 503.2V504.5M300.5 498.0H301.8M312.2 498.0H313.5"/></g><g stroke="#c04000" stroke-width="1.3" fill="none"><circle cx="314.4" cy="501.4" r="4.8"/><path d="M314.4 494.9V496.2M314.4 506.6V507.9M307.9 501.4H309.2M319.6 501.4H320.9"/></g><g stroke="#c04000" stroke-width="1.3" fill="none"><circle cx="360.4" cy="503.4" r="4.8"/><path d="M360.4 496.9V498.2M360.4 508.6V509.9M353.9 503.4H355.2M365.6 503.4H366.9"/></g><g stroke="#c04000" stroke-width="1.3" fill="none"><circle cx="366.4" cy="479.0" r="4.8"/><path d="M366.4 472.5V473.8M366.4 484.2V485.5M359.9 479.0H361.2M371.6 479.0H372.9"/></g><g stroke="#c04000" stroke-width="1.3" fill="none"><circle cx="413.0" cy="487.0" r="4.8"/><path d="M413.0 480.5V481.8M413.0 492.2V493.5M406.5 487.0H407.8M418.2 487.0H419.5"/></g><g stroke="#c04000" stroke-width="1.3" fill="none"><circle cx="420.0" cy="496.0" r="4.8"/><path d="M420.0 489.5V490.8M420.0 501.2V502.5M413.5 496.0H414.8M425.2 496.0H426.5"/></g><g stroke="#c04000" stroke-width="1.3" fill="none"><circle cx="466.4" cy="497.0" r="4.8"/><path d="M466.4 490.5V491.8M466.4 502.2V503.5M459.9 497.0H461.2M471.6 497.0H472.9"/></g><g stroke="#c04000" stroke-width="1.3" fill="none"><circle cx="472.4" cy="498.6" r="4.8"/><path d="M472.4 492.1V493.4M472.4 503.8V505.1M465.9 498.6H467.2M477.6 498.6H478.9"/></g><g stroke="#c04000" stroke-width="1.3" fill="none"><circle cx="518.0" cy="500.4" r="4.8"/><path d="M518.0 493.9V495.2M518.0 505.6V506.9M511.5 500.4H512.8M523.2 500.4H524.5"/></g><g stroke="#c04000" stroke-width="1.3" fill="none"><circle cx="524.3" cy="502.9" r="4.8"/><path d="M524.3 496.4V497.7M524.3 508.1V509.4M517.8 502.9H519.1M529.5 502.9H530.8"/></g><g stroke="#c04000" stroke-width="1.3" fill="none"><circle cx="571.4" cy="454.3" r="4.8"/><path d="M571.4 447.8V449.1M571.4 459.5V460.8M564.9 454.3H566.2M576.6 454.3H577.9"/></g><g stroke="#c04000" stroke-width="1.3" fill="none"><circle cx="577.0" cy="496.0" r="4.8"/><path d="M577.0 489.5V490.8M577.0 501.2V502.5M570.5 496.0H571.8M582.2 496.0H583.5"/></g><g stroke="#c04000" stroke-width="1.3" fill="none"><circle cx="623.6" cy="501.4" r="4.8"/><path d="M623.6 494.9V496.2M623.6 506.6V507.9M617.1 501.4H618.4M628.8 501.4H630.1"/></g><g stroke="#c04000" stroke-width="1.3" fill="none"><circle cx="628.6" cy="497.0" r="4.8"/><path d="M628.6 490.5V491.8M628.6 502.2V503.5M622.1 497.0H623.4M633.8 497.0H635.1"/></g><g stroke="#c04000" stroke-width="1.3" fill="none"><circle cx="676.0" cy="505.0" r="4.8"/><path d="M676.0 498.5V499.8M676.0 510.2V511.5M669.5 505.0H670.8M681.2 505.0H682.5"/></g><g stroke="#c04000" stroke-width="1.3" fill="none"><circle cx="683.0" cy="471.0" r="4.8"/><path d="M683.0 464.5V465.8M683.0 476.2V477.5M676.5 471.0H677.8M688.2 471.0H689.5"/></g><g stroke="#c04000" stroke-width="1.3" fill="none"><circle cx="729.0" cy="505.0" r="4.8"/><path d="M729.0 498.5V499.8M729.0 510.2V511.5M722.5 505.0H723.8M734.2 505.0H735.5"/></g><g stroke="#c04000" stroke-width="1.3" fill="none"><circle cx="735.0" cy="503.0" r="4.8"/><path d="M735.0 496.5V497.8M735.0 508.2V509.5M728.5 503.0H729.8M740.2 503.0H741.5"/></g><g stroke="#c04000" stroke-width="1.3" fill="none"><circle cx="782.0" cy="494.0" r="4.8"/><path d="M782.0 487.5V488.8M782.0 499.2V500.5M775.5 494.0H776.8M787.2 494.0H788.5"/></g><g stroke="#c04000" stroke-width="1.3" fill="none"><circle cx="788.0" cy="498.0" r="4.8"/><path d="M788.0 491.5V492.8M788.0 503.2V504.5M781.5 498.0H782.8M793.2 498.0H794.5"/></g><g stroke="#c04000" stroke-width="1.3" fill="none"><circle cx="835.0" cy="470.0" r="4.8"/><path d="M835.0 463.5V464.8M835.0 475.2V476.5M828.5 470.0H829.8M840.2 470.0H841.5"/></g><g stroke="#c04000" stroke-width="1.3" fill="none"><circle cx="841.0" cy="495.0" r="4.8"/><path d="M841.0 488.5V489.8M841.0 500.2V501.5M834.5 495.0H835.8M846.2 495.0H847.5"/></g><g stroke="#c04000" stroke-width="1.3" fill="none"><circle cx="887.0" cy="498.0" r="4.8"/><path d="M887.0 491.5V492.8M887.0 503.2V504.5M880.5 498.0H881.8M892.2 498.0H893.5"/></g><g stroke="#c04000" stroke-width="1.3" fill="none"><circle cx="893.0" cy="490.0" r="4.8"/><path d="M893.0 483.5V484.8M893.0 495.2V496.5M886.5 490.0H887.8M898.2 490.0H899.5"/></g><g stroke="#c04000" stroke-width="1.3" fill="none"><circle cx="940.0" cy="498.0" r="4.8"/><path d="M940.0 491.5V492.8M940.0 503.2V504.5M933.5 498.0H934.8M945.2 498.0H946.5"/></g><g stroke="#c04000" stroke-width="1.3" fill="none"><circle cx="946.3" cy="489.3" r="4.8"/><path d="M946.3 482.8V484.1M946.3 494.5V495.8M939.8 489.3H941.1M951.5 489.3H952.8"/></g><g stroke="#c04000" stroke-width="1.3" fill="none"><circle cx="993.0" cy="498.0" r="4.8"/><path d="M993.0 491.5V492.8M993.0 503.2V504.5M986.5 498.0H987.8M998.2 498.0H999.5"/></g><g stroke="#c04000" stroke-width="1.3" fill="none"><circle cx="999.7" cy="482.5" r="4.8"/><path d="M999.7 476.0V477.3M999.7 487.7V489.0M993.2 482.5H994.5M1004.9 482.5H1006.2"/></g><g stroke="#c04000" stroke-width="1.3" fill="none"><circle cx="1045.5" cy="499.3" r="4.8"/><path d="M1045.5 492.8V494.1M1045.5 504.5V505.8M1039.0 499.3H1040.3M1050.7 499.3H1052.0"/></g><g stroke="#c04000" stroke-width="1.3" fill="none"><circle cx="1052.5" cy="497.5" r="4.8"/><path d="M1052.5 491.0V492.3M1052.5 502.7V504.0M1046.0 497.5H1047.3M1057.7 497.5H1059.0"/></g><g stroke="#c04000" stroke-width="1.3" fill="none"><circle cx="1098.5" cy="489.3" r="4.8"/><path d="M1098.5 482.8V484.1M1098.5 494.5V495.8M1092.0 489.3H1093.3M1103.7 489.3H1105.0"/></g><g stroke="#c04000" stroke-width="1.3" fill="none"><circle cx="1104.0" cy="413.0" r="4.8"/><path d="M1104.0 406.5V407.8M1104.0 418.2V419.5M1097.5 413.0H1098.8M1109.2 413.0H1110.5"/></g><g stroke="#c04000" stroke-width="1.3" fill="none"><circle cx="1151.5" cy="489.3" r="4.8"/><path d="M1151.5 482.8V484.1M1151.5 494.5V495.8M1145.0 489.3H1146.3M1156.7 489.3H1158.0"/></g><g stroke="#c04000" stroke-width="1.3" fill="none"><circle cx="1157.5" cy="492.5" r="4.8"/><path d="M1157.5 486.0V487.3M1157.5 497.7V499.0M1151.0 492.5H1152.3M1162.7 492.5H1164.0"/></g><g stroke="#c04000" stroke-width="1.3" fill="none"><circle cx="1203.0" cy="499.4" r="4.8"/><path d="M1203.0 492.9V494.2M1203.0 504.6V505.9M1196.5 499.4H1197.8M1208.2 499.4H1209.5"/></g><g stroke="#c04000" stroke-width="1.3" fill="none"><circle cx="1210.5" cy="496.8" r="4.8"/><path d="M1210.5 490.3V491.6M1210.5 502.0V503.3M1204.0 496.8H1205.3M1215.7 496.8H1217.0"/></g><g stroke="#c04000" stroke-width="1.3" fill="none"><circle cx="1256.5" cy="503.2" r="4.8"/><path d="M1256.5 496.7V498.0M1256.5 508.4V509.7M1250.0 503.2H1251.3M1261.7 503.2H1263.0"/></g><g stroke="#c04000" stroke-width="1.3" fill="none"><circle cx="1262.6" cy="492.3" r="4.8"/><path d="M1262.6 485.8V487.1M1262.6 497.5V498.8M1256.1 492.3H1257.4M1267.8 492.3H1269.1"/></g><g stroke="#c04000" stroke-width="1.3" fill="none"><circle cx="1309.0" cy="390.0" r="4.8"/><path d="M1309.0 383.5V384.8M1309.0 395.2V396.5M1302.5 390.0H1303.8M1314.2 390.0H1315.5"/></g><g stroke="#c04000" stroke-width="1.3" fill="none"><circle cx="1315.3" cy="488.3" r="4.8"/><path d="M1315.3 481.8V483.1M1315.3 493.5V494.8M1308.8 488.3H1310.1M1320.5 488.3H1321.8"/></g><g stroke="#c04000" stroke-width="1.3" fill="none"><circle cx="1362.4" cy="499.4" r="4.8"/><path d="M1362.4 492.9V494.2M1362.4 504.6V505.9M1355.9 499.4H1357.2M1367.6 499.4H1368.9"/></g><circle cx="104.4" cy="530.7" r="5.7" fill="#c8c800"/><circle cx="149.4" cy="535.4" r="5.7" fill="#c8c800"/><circle cx="208.6" cy="534.0" r="5.7" fill="#c8c800"/><circle cx="256.0" cy="535.0" r="5.7" fill="#c8c800"/><circle cx="262.0" cy="535.0" r="5.7" fill="#c8c800"/><circle cx="308.0" cy="535.0" r="5.7" fill="#c8c800"/><circle cx="314.0" cy="535.0" r="5.7" fill="#c8c800"/><circle cx="360.0" cy="309.0" r="5.7" fill="#c8c800"/><circle cx="366.0" cy="379.0" r="5.7" fill="#c8c800"/><circle cx="412.0" cy="535.0" r="5.7" fill="#c8c800"/><circle cx="418.0" cy="535.0" r="5.7" fill="#c8c800"/><circle cx="466.0" cy="535.0" r="5.7" fill="#c8c800"/><circle cx="471.0" cy="535.0" r="5.7" fill="#c8c800"/><circle cx="518.0" cy="535.0" r="5.7" fill="#c8c800"/><circle cx="523.0" cy="535.0" r="5.7" fill="#c8c800"/><circle cx="571.0" cy="535.0" r="5.7" fill="#c8c800"/><circle cx="576.0" cy="529.0" r="5.7" fill="#c8c800"/><circle cx="624.0" cy="526.0" r="5.7" fill="#c8c800"/><circle cx="630.0" cy="533.0" r="5.7" fill="#c8c800"/><circle cx="676.0" cy="535.0" r="5.7" fill="#c8c800"/><circle cx="681.0" cy="535.0" r="5.7" fill="#c8c800"/><circle cx="729.0" cy="535.0" r="5.7" fill="#c8c800"/><circle cx="734.0" cy="535.0" r="5.7" fill="#c8c800"/><circle cx="783.0" cy="532.0" r="5.7" fill="#c8c800"/><circle cx="787.0" cy="535.0" r="5.7" fill="#c8c800"/><circle cx="835.0" cy="535.0" r="5.7" fill="#c8c800"/><circle cx="840.0" cy="535.0" r="5.7" fill="#c8c800"/><circle cx="887.0" cy="535.0" r="5.7" fill="#c8c800"/><circle cx="892.0" cy="535.0" r="5.7" fill="#c8c800"/><circle cx="940.0" cy="534.0" r="5.7" fill="#c8c800"/><circle cx="945.0" cy="535.0" r="5.7" fill="#c8c800"/><circle cx="993.0" cy="535.0" r="5.7" fill="#c8c800"/><circle cx="998.0" cy="535.0" r="5.7" fill="#c8c800"/><circle cx="1046.0" cy="532.0" r="5.7" fill="#c8c800"/><circle cx="1051.0" cy="535.0" r="5.7" fill="#c8c800"/><circle cx="1098.0" cy="535.0" r="5.7" fill="#c8c800"/><circle cx="1103.0" cy="535.0" r="5.7" fill="#c8c800"/><circle cx="1151.0" cy="535.0" r="5.7" fill="#c8c800"/><circle cx="1156.0" cy="535.0" r="5.7" fill="#c8c800"/><circle cx="1204.0" cy="535.0" r="5.7" fill="#c8c800"/><circle cx="1209.0" cy="535.0" r="5.7" fill="#c8c800"/><circle cx="1256.0" cy="533.0" r="5.7" fill="#c8c800"/><circle cx="1262.0" cy="525.0" r="5.7" fill="#c8c800"/><circle cx="1309.0" cy="535.0" r="5.7" fill="#c8c800"/><circle cx="1314.0" cy="535.0" r="5.7" fill="#c8c800"/><circle cx="1362.5" cy="420.3" r="5.7" fill="#c8c800"/><path d="M290.5 456.1L298.9 468.6H282.1Z" fill="none" stroke="#4169e1" stroke-width="1.2"/><path d="M603.6 456.1L612.0 468.6H595.2Z" fill="none" stroke="#4169e1" stroke-width="1.2"/><path d="M782.0 456.1L790.4 468.6H773.6Z" fill="none" stroke="#4169e1" stroke-width="1.2"/><path d="M915.4 456.1L923.8 468.6H907.0Z" fill="none" stroke="#4169e1" stroke-width="1.2"/><path d="M922.5 456.1L930.9 468.6H914.1Z" fill="none" stroke="#4169e1" stroke-width="1.2"/><path d="M1007.4 456.1L1015.8 468.6H999.0Z" fill="none" stroke="#4169e1" stroke-width="1.2"/><path d="M1013.1 456.1L1021.5 468.6H1004.7Z" fill="none" stroke="#4169e1" stroke-width="1.2"/><path d="M1014.0 456.1L1022.4 468.6H1005.6Z" fill="none" stroke="#4169e1" stroke-width="1.2"/><path d="M1032.6 456.1L1041.0 468.6H1024.2Z" fill="none" stroke="#4169e1" stroke-width="1.2"/><path d="M1036.0 456.1L1044.4 468.6H1027.6Z" fill="none" stroke="#4169e1" stroke-width="1.2"/><path d="M1037.7 456.1L1046.1 468.6H1029.3Z" fill="none" stroke="#4169e1" stroke-width="1.2"/><path d="M1040.0 456.1L1048.4 468.6H1031.6Z" fill="none" stroke="#4169e1" stroke-width="1.2"/><path d="M259.0 400.2L268.0 413.6H250.0Z" fill="#ffc020"/><path d="M312.0 400.2L321.0 413.6H303.0Z" fill="#ffc020"/><path d="M997.0 400.2L1006.0 413.6H988.0Z" fill="#ffc020"/><path d="M1050.0 400.2L1059.0 413.6H1041.0Z" fill="#ffc020"/><path d="M1261.5 400.2L1270.5 413.6H1252.5Z" fill="#ffc020"/><path d="M1313.0 400.2L1322.0 413.6H1304.0Z" fill="#ffc020"/></g>
<path d="M92.5 350H160L151.5 363H101Z M198.7 350H1374.5L1366 363H207.2Z" fill="#306080"/>
<path d="M101.5 57.5H1366.5V539.5H101.5Z" fill="none" stroke="#000" stroke-width="1.1"/>
</svg>
</body></html>
